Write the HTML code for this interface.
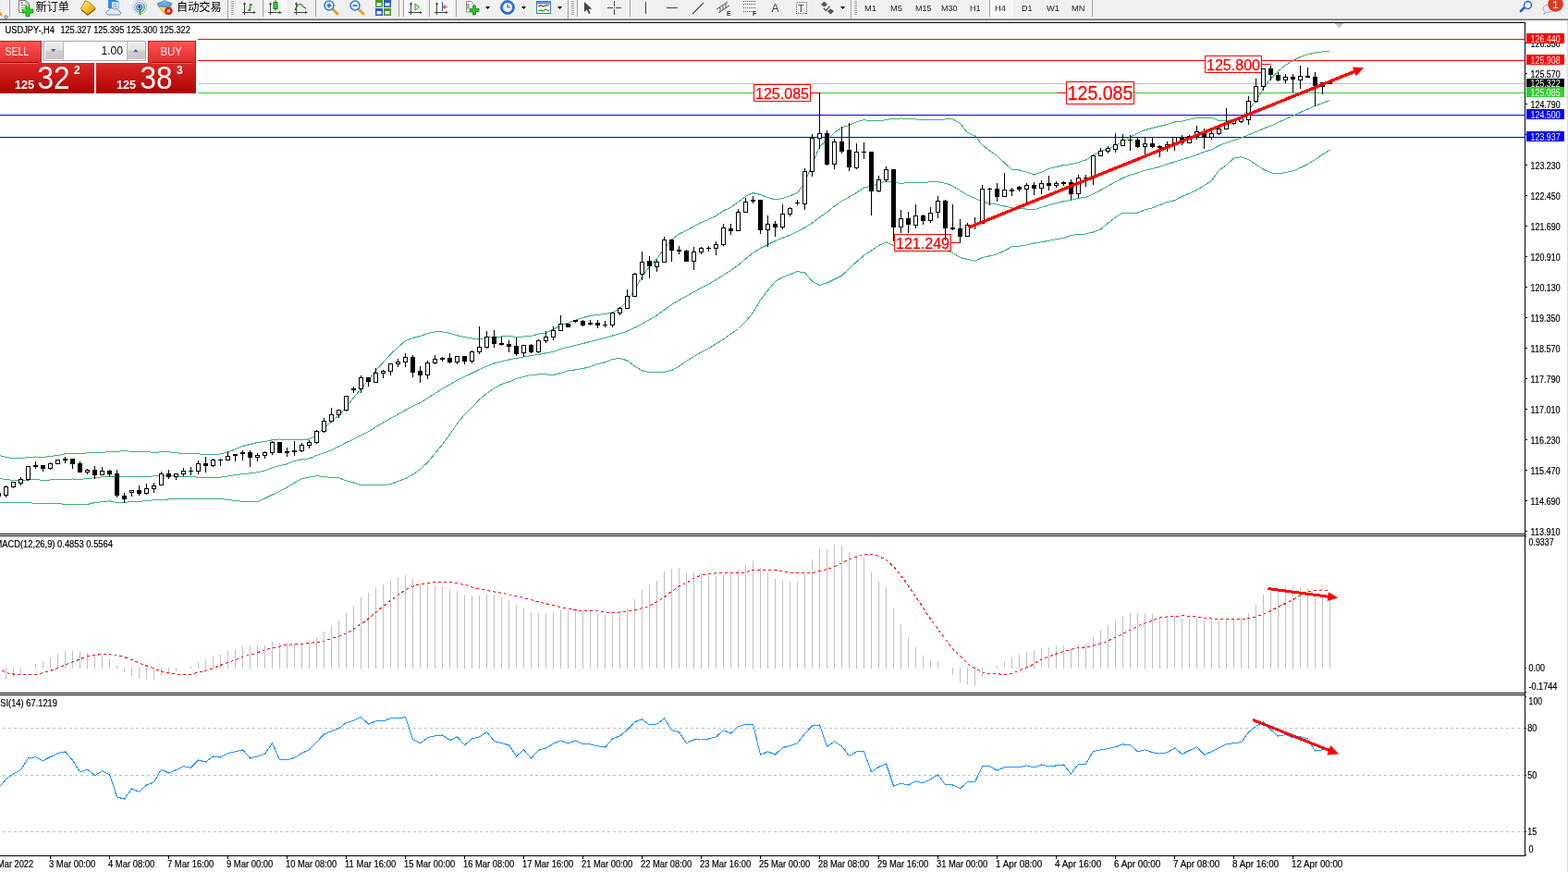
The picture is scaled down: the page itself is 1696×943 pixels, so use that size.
<!DOCTYPE html>
<html lang="zh-CN"><head><meta charset="utf-8"><title>USDJPY-,H4</title>
<style>
html,body{margin:0;padding:0;background:#fff;}
body{width:1696px;height:943px;position:relative;overflow:hidden;font-family:"Liberation Sans","Noto Sans CJK SC",sans-serif;}
#chart{position:absolute;left:0;top:0;}
#chart text{font-family:"Liberation Sans","Noto Sans CJK SC",sans-serif;}
#chart text.sm{stroke:#000;stroke-width:0.2px;}
#tb{position:absolute;left:0;top:0;width:1696px;height:20px;background:#f0f0f0;}
#tbl{position:absolute;left:0;top:19px;width:1696px;height:3px;background:linear-gradient(#f6f6f6 0 33.3%,#a4a4a4 33.3% 66.6%,#6a6a6a 66.6% 100%);}
#rb{position:absolute;left:1695px;top:22px;width:1px;height:921px;background:#dcdcdc;}
.tbt{position:absolute;top:0;height:20px;line-height:16px;font-size:12px;color:#000;white-space:nowrap;}
.tf{position:absolute;top:1px;height:16px;line-height:16px;font-size:10px;color:#222;white-space:nowrap;}
.sep{position:absolute;top:0;width:1px;height:18px;background:#a0a0a0;}
.grip{position:absolute;top:1px;width:3px;height:16px;background:repeating-linear-gradient(#a8a8a8 0 1px,#f0f0f0 1px 2px);}
/* trade panel */
.rbtn{position:absolute;background:linear-gradient(#ff5a5a,#d62020);color:#fff;}
.pbox{position:absolute;top:24px;height:33px;background:linear-gradient(#de2a2a,#b40000);color:#fff;}
</style></head><body>
<svg id="chart" width="1696" height="943" viewBox="0 0 1696 943">
<g shape-rendering="crispEdges">
<rect x="0" y="42" width="1649" height="1" fill="#ff0000"/>
<rect x="0" y="65" width="1649" height="1" fill="#ff0000"/>
<rect x="0" y="90" width="1649" height="1" fill="#c0c0c0"/>
<rect x="0" y="100" width="1649" height="1" fill="#32cd32"/>
<rect x="0" y="124" width="1649" height="1" fill="#0000ff"/>
<rect x="0" y="148" width="1649" height="1" fill="#0000ff"/>
</g>
<polyline points="-1.5,492.2 6.5,494.5 14.5,495.8 22.5,495.8 30.5,494.5 38.5,494.0 46.5,494.5 54.5,493.5 62.5,492.5 70.5,490.8 78.5,490.8 86.5,490.5 94.5,489.9 102.5,489.5 110.5,489.5 118.5,488.5 126.5,488.5 134.5,487.5 142.5,488.5 150.5,488.5 158.5,488.5 166.5,489.5 174.5,488.8 182.5,488.8 190.5,489.5 198.5,490.8 206.5,490.8 214.5,490.8 222.5,491.8 230.5,491.8 238.5,490.8 246.5,489.0 254.5,485.8 262.5,482.5 270.5,480.5 278.5,478.5 286.5,477.5 294.5,475.8 302.5,474.9 310.5,475.8 318.5,475.8 326.5,475.8 334.5,474.9 342.5,470.5 350.5,463.0 358.5,456.1 366.5,449.2 374.5,440.5 382.5,430.0 390.5,420.5 398.5,411.0 406.5,400.5 414.5,391.8 422.5,383.0 430.5,375.5 438.5,368.5 446.5,365.5 454.5,363.5 462.5,360.5 470.5,358.9 478.5,358.9 486.5,360.2 494.5,362.8 502.5,364.5 510.5,365.9 518.5,367.0 526.5,365.2 534.5,364.2 542.5,364.0 550.5,363.5 558.5,364.5 566.5,364.0 574.5,363.5 582.5,361.1 590.5,359.9 598.5,356.1 606.5,351.8 614.5,349.2 622.5,346.1 630.5,343.5 638.5,341.5 646.5,340.5 654.5,339.5 662.5,338.0 670.5,333.5 678.5,325.5 686.5,313.5 694.5,299.0 702.5,288.5 710.5,279.9 718.5,268.5 726.5,259.0 734.5,253.0 742.5,249.2 750.5,244.9 758.5,240.5 766.5,237.4 774.5,233.5 782.5,228.0 790.5,224.2 798.5,218.5 806.5,212.4 814.5,208.5 822.5,210.5 830.5,213.5 838.5,215.9 846.5,214.5 854.5,211.8 862.5,208.5 870.5,197.5 878.5,178.0 886.5,158.5 894.5,151.5 902.5,143.5 910.5,137.8 918.5,135.5 926.5,131.8 934.5,129.5 942.5,130.9 950.5,130.9 958.5,129.5 966.5,128.5 974.5,128.0 982.5,128.9 990.5,128.9 998.5,129.9 1006.5,129.9 1014.5,129.9 1022.5,128.9 1030.5,128.9 1038.5,133.5 1046.5,143.5 1054.5,147.0 1062.5,156.8 1070.5,163.0 1078.5,168.5 1086.5,176.1 1094.5,183.5 1102.5,184.0 1110.5,186.1 1118.5,189.0 1126.5,186.1 1134.5,182.4 1142.5,180.5 1150.5,178.5 1158.5,177.8 1166.5,175.5 1174.5,173.0 1182.5,168.0 1190.5,163.5 1198.5,161.1 1206.5,157.4 1214.5,153.0 1222.5,148.0 1230.5,144.2 1238.5,140.5 1246.5,138.5 1254.5,136.5 1262.5,134.5 1270.5,132.0 1278.5,131.1 1286.5,129.2 1294.5,127.4 1302.5,127.4 1310.5,127.4 1318.5,130.5 1326.5,130.8 1334.5,129.2 1342.5,127.0 1350.5,118.5 1358.5,109.2 1366.5,95.5 1374.5,84.9 1382.5,76.8 1390.5,70.5 1398.5,65.5 1406.5,61.5 1414.5,58.9 1422.5,57.1 1430.5,55.9 1438.5,55.8" fill="none" stroke="#3cb371" stroke-width="1" shape-rendering="crispEdges"/>
<polyline points="-1.5,517.5 6.5,518.5 14.5,519.5 22.5,519.5 30.5,519.0 38.5,518.5 46.5,519.5 54.5,519.0 62.5,518.5 70.5,518.5 78.5,518.0 86.5,518.5 94.5,517.5 102.5,516.8 110.5,515.8 118.5,515.5 126.5,515.5 134.5,515.5 142.5,515.5 150.5,515.5 158.5,515.5 166.5,514.9 174.5,514.9 182.5,514.9 190.5,514.9 198.5,515.8 206.5,515.8 214.5,516.1 222.5,516.1 230.5,516.1 238.5,516.1 246.5,514.9 254.5,513.5 262.5,512.8 270.5,511.8 278.5,510.8 286.5,508.9 294.5,505.8 302.5,503.5 310.5,501.8 318.5,498.5 326.5,496.8 334.5,495.8 342.5,492.5 350.5,489.9 358.5,486.8 366.5,483.0 374.5,478.5 382.5,474.9 390.5,470.8 398.5,466.8 406.5,461.8 414.5,457.0 422.5,452.5 430.5,448.0 438.5,443.5 446.5,439.2 454.5,435.5 462.5,430.5 470.5,425.5 478.5,420.5 486.5,415.8 494.5,411.1 502.5,407.4 510.5,403.5 518.5,399.5 526.5,396.1 534.5,393.0 542.5,390.9 550.5,389.0 558.5,387.4 566.5,385.9 574.5,384.5 582.5,383.4 590.5,381.8 598.5,380.5 606.5,377.4 614.5,375.5 622.5,373.4 630.5,371.5 638.5,369.5 646.5,367.4 654.5,365.5 662.5,363.0 670.5,360.8 678.5,358.0 686.5,354.5 694.5,350.2 702.5,345.5 710.5,341.1 718.5,335.1 726.5,329.5 734.5,324.5 742.5,320.2 750.5,315.8 758.5,311.3 766.5,307.1 774.5,302.5 782.5,297.5 790.5,292.5 798.5,286.8 806.5,279.9 814.5,273.5 822.5,268.5 830.5,264.5 838.5,260.5 846.5,257.4 854.5,254.2 862.5,250.2 870.5,246.0 878.5,241.0 886.5,235.0 894.5,229.5 902.5,223.0 910.5,217.5 918.5,213.0 926.5,208.5 934.5,203.0 942.5,201.3 950.5,198.3 958.5,196.1 966.5,196.9 974.5,198.4 982.5,197.5 990.5,197.5 998.5,197.5 1006.5,196.8 1014.5,196.8 1022.5,198.2 1030.5,201.1 1038.5,206.1 1046.5,211.1 1054.5,214.2 1062.5,218.0 1070.5,219.9 1078.5,221.1 1086.5,223.0 1094.5,224.9 1102.5,225.5 1110.5,226.1 1118.5,226.8 1126.5,224.2 1134.5,221.8 1142.5,219.5 1150.5,217.8 1158.5,216.5 1166.5,214.2 1174.5,213.5 1182.5,209.9 1190.5,205.5 1198.5,201.1 1206.5,196.8 1214.5,192.4 1222.5,189.2 1230.5,187.0 1238.5,184.2 1246.5,182.4 1254.5,180.2 1262.5,177.4 1270.5,175.2 1278.5,172.4 1286.5,170.2 1294.5,167.4 1302.5,164.2 1310.5,161.8 1318.5,157.4 1326.5,154.5 1334.5,151.8 1342.5,149.0 1350.5,145.9 1358.5,142.5 1366.5,139.2 1374.5,136.1 1382.5,132.4 1390.5,128.8 1398.5,125.2 1406.5,121.5 1414.5,118.0 1422.5,114.5 1430.5,111.5 1438.5,108.5" fill="none" stroke="#3cb371" stroke-width="1" shape-rendering="crispEdges"/>
<polyline points="-1.5,543.0 6.5,543.5 14.5,543.5 22.5,543.5 30.5,543.5 38.5,544.5 46.5,544.5 54.5,544.5 62.5,544.5 70.5,545.5 78.5,545.5 86.5,545.5 94.5,545.5 102.5,543.5 110.5,542.8 118.5,541.8 126.5,543.5 134.5,543.5 142.5,542.5 150.5,542.5 158.5,541.5 166.5,540.8 174.5,540.8 182.5,539.9 190.5,539.5 198.5,539.5 206.5,539.5 214.5,539.5 222.5,539.5 230.5,539.5 238.5,539.5 246.5,540.5 254.5,541.5 262.5,542.5 270.5,542.5 278.5,542.5 286.5,539.0 294.5,535.0 302.5,531.5 310.5,527.0 318.5,522.0 326.5,517.8 334.5,516.1 342.5,514.7 350.5,515.5 358.5,516.8 366.5,516.8 374.5,519.9 382.5,522.0 390.5,524.8 398.5,524.8 406.5,524.8 414.5,524.8 422.5,523.5 430.5,520.5 438.5,517.5 446.5,513.0 454.5,507.5 462.5,500.0 470.5,490.5 478.5,480.5 486.5,470.0 494.5,458.0 502.5,448.5 510.5,440.5 518.5,432.0 526.5,425.5 534.5,419.9 542.5,415.5 550.5,413.0 558.5,409.5 566.5,407.4 574.5,405.5 582.5,404.9 590.5,404.9 598.5,405.5 606.5,403.5 614.5,400.8 622.5,399.9 630.5,398.4 638.5,396.8 646.5,393.5 654.5,391.8 662.5,388.5 670.5,387.5 678.5,389.9 686.5,396.1 694.5,400.8 702.5,402.5 710.5,402.5 718.5,402.4 726.5,400.5 734.5,396.1 742.5,390.5 750.5,385.5 758.5,380.8 766.5,376.8 774.5,371.8 782.5,367.0 790.5,361.1 798.5,355.5 806.5,347.5 814.5,338.0 822.5,324.5 830.5,314.0 838.5,304.2 846.5,299.9 854.5,296.8 862.5,293.5 870.5,294.9 878.5,304.2 886.5,308.5 894.5,306.0 902.5,302.0 910.5,298.0 918.5,290.5 926.5,283.0 934.5,276.2 942.5,271.0 950.5,265.5 958.5,261.7 966.5,265.5 974.5,267.5 982.5,268.5 990.5,269.5 998.5,270.5 1006.5,270.5 1014.5,270.5 1022.5,270.8 1030.5,273.5 1038.5,278.5 1046.5,280.5 1054.5,282.4 1062.5,278.5 1070.5,276.8 1078.5,274.9 1086.5,271.1 1094.5,266.8 1102.5,266.1 1110.5,264.9 1118.5,263.0 1126.5,261.8 1134.5,260.2 1142.5,258.8 1150.5,257.5 1158.5,254.5 1166.5,253.5 1174.5,253.0 1182.5,251.0 1190.5,248.0 1198.5,241.0 1206.5,235.0 1214.5,230.0 1222.5,230.0 1230.5,230.0 1238.5,226.8 1246.5,224.9 1254.5,221.8 1262.5,218.5 1270.5,216.8 1278.5,212.4 1286.5,209.2 1294.5,205.5 1302.5,200.5 1310.5,195.5 1318.5,184.2 1326.5,178.5 1334.5,171.1 1342.5,169.7 1350.5,172.5 1358.5,178.0 1366.5,183.0 1374.5,186.8 1382.5,188.0 1390.5,186.5 1398.5,185.0 1406.5,181.5 1414.5,177.5 1422.5,172.5 1430.5,167.0 1438.5,162.2" fill="none" stroke="#3cb371" stroke-width="1" shape-rendering="crispEdges"/>
<g shape-rendering="crispEdges">
<rect x="877" y="100" width="10" height="1" fill="#ff0000"/>
<rect x="886" y="100" width="1" height="45" fill="#000"/>
<rect x="1143" y="100" width="11" height="1" fill="#ff0000"/>
<rect x="1365" y="69" width="10" height="1" fill="#ff0000"/>
<rect x="1029" y="262" width="10" height="1" fill="#ff0000"/>
</g>
<rect x="815.5" y="91.5" width="61" height="18" fill="#fff" stroke="#ff0000" stroke-width="1" shape-rendering="crispEdges"/><text x="846.0" y="107" font-size="16.8" fill="#ff0000" text-anchor="middle" textLength="58" lengthAdjust="spacingAndGlyphs" stroke="#ff0000" stroke-width="0.25">125.085</text>
<rect x="1153.5" y="88.5" width="73" height="24" fill="#fff" stroke="#ff0000" stroke-width="1" shape-rendering="crispEdges"/><text x="1190.0" y="108.2" font-size="21.2" fill="#ff0000" text-anchor="middle" textLength="70.5" lengthAdjust="spacingAndGlyphs" stroke="#ff0000" stroke-width="0.25">125.085</text>
<rect x="1303.5" y="60.5" width="61" height="18" fill="#fff" stroke="#ff0000" stroke-width="1" shape-rendering="crispEdges"/><text x="1334.0" y="76" font-size="16.8" fill="#ff0000" text-anchor="middle" textLength="58" lengthAdjust="spacingAndGlyphs" stroke="#ff0000" stroke-width="0.25">125.800</text>
<rect x="967.5" y="253.5" width="61" height="18" fill="#fff" stroke="#ff0000" stroke-width="1" shape-rendering="crispEdges"/><text x="998.0" y="269" font-size="16.8" fill="#ff0000" text-anchor="middle" textLength="58" lengthAdjust="spacingAndGlyphs" stroke="#ff0000" stroke-width="0.25">121.249</text>
<g shape-rendering="crispEdges">
<rect x="0" y="533" width="1" height="4" fill="#000"/>
<rect x="6" y="525" width="1" height="13" fill="#000"/>
<rect x="4" y="526" width="5" height="10" fill="#000"/>
<rect x="5" y="527" width="3" height="8" fill="#fff"/>
<rect x="14" y="521" width="1" height="7" fill="#000"/>
<rect x="12" y="521" width="5" height="6" fill="#000"/>
<rect x="13" y="522" width="3" height="4" fill="#fff"/>
<rect x="22" y="516" width="1" height="9" fill="#000"/>
<rect x="20" y="518" width="5" height="5" fill="#000"/>
<rect x="21" y="519" width="3" height="3" fill="#fff"/>
<rect x="30" y="504" width="1" height="16" fill="#000"/>
<rect x="28" y="504" width="5" height="15" fill="#000"/>
<rect x="29" y="505" width="3" height="13" fill="#fff"/>
<rect x="38" y="499" width="1" height="8" fill="#000"/>
<rect x="36" y="503" width="5" height="2" fill="#000"/>
<rect x="46" y="503" width="1" height="7" fill="#000"/>
<rect x="44" y="503" width="5" height="4" fill="#000"/>
<rect x="54" y="500" width="1" height="8" fill="#000"/>
<rect x="52" y="501" width="5" height="6" fill="#000"/>
<rect x="53" y="502" width="3" height="4" fill="#fff"/>
<rect x="62" y="497" width="1" height="5" fill="#000"/>
<rect x="60" y="497" width="5" height="5" fill="#000"/>
<rect x="61" y="498" width="3" height="3" fill="#fff"/>
<rect x="70" y="494" width="1" height="7" fill="#000"/>
<rect x="68" y="496" width="5" height="2" fill="#000"/>
<rect x="78" y="496" width="1" height="11" fill="#000"/>
<rect x="76" y="496" width="5" height="6" fill="#000"/>
<rect x="86" y="499" width="1" height="12" fill="#000"/>
<rect x="84" y="501" width="5" height="10" fill="#000"/>
<rect x="94" y="507" width="1" height="6" fill="#000"/>
<rect x="92" y="508" width="5" height="3" fill="#000"/>
<rect x="93" y="509" width="3" height="1" fill="#fff"/>
<rect x="102" y="504" width="1" height="14" fill="#000"/>
<rect x="100" y="508" width="5" height="6" fill="#000"/>
<rect x="110" y="505" width="1" height="9" fill="#000"/>
<rect x="108" y="509" width="5" height="5" fill="#000"/>
<rect x="109" y="510" width="3" height="3" fill="#fff"/>
<rect x="118" y="508" width="1" height="8" fill="#000"/>
<rect x="116" y="509" width="5" height="4" fill="#000"/>
<rect x="126" y="508" width="1" height="30" fill="#000"/>
<rect x="124" y="512" width="5" height="24" fill="#000"/>
<rect x="134" y="533" width="1" height="11" fill="#000"/>
<rect x="132" y="536" width="5" height="4" fill="#000"/>
<rect x="142" y="530" width="1" height="7" fill="#000"/>
<rect x="140" y="530" width="5" height="3" fill="#000"/>
<rect x="141" y="531" width="3" height="1" fill="#fff"/>
<rect x="150" y="525" width="1" height="11" fill="#000"/>
<rect x="148" y="530" width="5" height="4" fill="#000"/>
<rect x="158" y="523" width="1" height="12" fill="#000"/>
<rect x="156" y="528" width="5" height="6" fill="#000"/>
<rect x="157" y="529" width="3" height="4" fill="#fff"/>
<rect x="166" y="522" width="1" height="11" fill="#000"/>
<rect x="164" y="525" width="5" height="4" fill="#000"/>
<rect x="165" y="526" width="3" height="2" fill="#fff"/>
<rect x="174" y="510" width="1" height="15" fill="#000"/>
<rect x="172" y="512" width="5" height="13" fill="#000"/>
<rect x="173" y="513" width="3" height="11" fill="#fff"/>
<rect x="182" y="508" width="1" height="10" fill="#000"/>
<rect x="180" y="512" width="5" height="4" fill="#000"/>
<rect x="190" y="512" width="1" height="7" fill="#000"/>
<rect x="188" y="512" width="5" height="4" fill="#000"/>
<rect x="189" y="513" width="3" height="2" fill="#fff"/>
<rect x="198" y="506" width="1" height="9" fill="#000"/>
<rect x="196" y="509" width="5" height="4" fill="#000"/>
<rect x="197" y="510" width="3" height="2" fill="#fff"/>
<rect x="206" y="505" width="1" height="9" fill="#000"/>
<rect x="204" y="509" width="5" height="1" fill="#000"/>
<rect x="214" y="498" width="1" height="15" fill="#000"/>
<rect x="212" y="501" width="5" height="9" fill="#000"/>
<rect x="213" y="502" width="3" height="7" fill="#fff"/>
<rect x="222" y="494" width="1" height="17" fill="#000"/>
<rect x="220" y="501" width="5" height="3" fill="#000"/>
<rect x="230" y="496" width="1" height="9" fill="#000"/>
<rect x="228" y="497" width="5" height="7" fill="#000"/>
<rect x="229" y="498" width="3" height="5" fill="#fff"/>
<rect x="238" y="496" width="1" height="8" fill="#000"/>
<rect x="236" y="497" width="5" height="1" fill="#000"/>
<rect x="246" y="488" width="1" height="10" fill="#000"/>
<rect x="244" y="493" width="5" height="5" fill="#000"/>
<rect x="245" y="494" width="3" height="3" fill="#fff"/>
<rect x="254" y="491" width="1" height="8" fill="#000"/>
<rect x="252" y="491" width="5" height="2" fill="#000"/>
<rect x="262" y="487" width="1" height="11" fill="#000"/>
<rect x="260" y="489" width="5" height="2" fill="#000"/>
<rect x="270" y="487" width="1" height="18" fill="#000"/>
<rect x="268" y="489" width="5" height="6" fill="#000"/>
<rect x="278" y="490" width="1" height="9" fill="#000"/>
<rect x="276" y="492" width="5" height="3" fill="#000"/>
<rect x="277" y="493" width="3" height="1" fill="#fff"/>
<rect x="286" y="488" width="1" height="8" fill="#000"/>
<rect x="284" y="489" width="5" height="4" fill="#000"/>
<rect x="285" y="490" width="3" height="2" fill="#fff"/>
<rect x="294" y="477" width="1" height="15" fill="#000"/>
<rect x="292" y="478" width="5" height="12" fill="#000"/>
<rect x="293" y="479" width="3" height="10" fill="#fff"/>
<rect x="302" y="478" width="1" height="12" fill="#000"/>
<rect x="300" y="478" width="5" height="12" fill="#000"/>
<rect x="310" y="484" width="1" height="10" fill="#000"/>
<rect x="308" y="488" width="5" height="2" fill="#000"/>
<rect x="318" y="477" width="1" height="16" fill="#000"/>
<rect x="316" y="487" width="5" height="2" fill="#000"/>
<rect x="326" y="479" width="1" height="10" fill="#000"/>
<rect x="324" y="481" width="5" height="7" fill="#000"/>
<rect x="325" y="482" width="3" height="5" fill="#fff"/>
<rect x="334" y="476" width="1" height="9" fill="#000"/>
<rect x="332" y="478" width="5" height="4" fill="#000"/>
<rect x="333" y="479" width="3" height="2" fill="#fff"/>
<rect x="342" y="465" width="1" height="15" fill="#000"/>
<rect x="340" y="466" width="5" height="13" fill="#000"/>
<rect x="341" y="467" width="3" height="11" fill="#fff"/>
<rect x="350" y="452" width="1" height="16" fill="#000"/>
<rect x="348" y="455" width="5" height="12" fill="#000"/>
<rect x="349" y="456" width="3" height="10" fill="#fff"/>
<rect x="358" y="441" width="1" height="16" fill="#000"/>
<rect x="356" y="448" width="5" height="8" fill="#000"/>
<rect x="357" y="449" width="3" height="6" fill="#fff"/>
<rect x="366" y="443" width="1" height="9" fill="#000"/>
<rect x="364" y="443" width="5" height="6" fill="#000"/>
<rect x="365" y="444" width="3" height="4" fill="#fff"/>
<rect x="374" y="428" width="1" height="17" fill="#000"/>
<rect x="372" y="428" width="5" height="16" fill="#000"/>
<rect x="373" y="429" width="3" height="14" fill="#fff"/>
<rect x="382" y="418" width="1" height="7" fill="#000"/>
<rect x="380" y="420" width="5" height="2" fill="#000"/>
<rect x="390" y="406" width="1" height="19" fill="#000"/>
<rect x="388" y="408" width="5" height="13" fill="#000"/>
<rect x="389" y="409" width="3" height="11" fill="#fff"/>
<rect x="398" y="408" width="1" height="10" fill="#000"/>
<rect x="396" y="408" width="5" height="5" fill="#000"/>
<rect x="406" y="398" width="1" height="16" fill="#000"/>
<rect x="404" y="403" width="5" height="11" fill="#000"/>
<rect x="405" y="404" width="3" height="9" fill="#fff"/>
<rect x="414" y="400" width="1" height="9" fill="#000"/>
<rect x="412" y="401" width="5" height="3" fill="#000"/>
<rect x="413" y="402" width="3" height="1" fill="#fff"/>
<rect x="422" y="393" width="1" height="13" fill="#000"/>
<rect x="420" y="393" width="5" height="9" fill="#000"/>
<rect x="421" y="394" width="3" height="7" fill="#fff"/>
<rect x="430" y="388" width="1" height="9" fill="#000"/>
<rect x="428" y="391" width="5" height="3" fill="#000"/>
<rect x="429" y="392" width="3" height="1" fill="#fff"/>
<rect x="438" y="382" width="1" height="15" fill="#000"/>
<rect x="436" y="386" width="5" height="6" fill="#000"/>
<rect x="437" y="387" width="3" height="4" fill="#fff"/>
<rect x="446" y="384" width="1" height="24" fill="#000"/>
<rect x="444" y="386" width="5" height="17" fill="#000"/>
<rect x="454" y="396" width="1" height="18" fill="#000"/>
<rect x="452" y="401" width="5" height="5" fill="#000"/>
<rect x="462" y="390" width="1" height="20" fill="#000"/>
<rect x="460" y="392" width="5" height="14" fill="#000"/>
<rect x="461" y="393" width="3" height="12" fill="#fff"/>
<rect x="470" y="384" width="1" height="10" fill="#000"/>
<rect x="468" y="388" width="5" height="5" fill="#000"/>
<rect x="469" y="389" width="3" height="3" fill="#fff"/>
<rect x="478" y="386" width="1" height="5" fill="#000"/>
<rect x="476" y="387" width="5" height="2" fill="#000"/>
<rect x="486" y="382" width="1" height="11" fill="#000"/>
<rect x="484" y="387" width="5" height="5" fill="#000"/>
<rect x="494" y="385" width="1" height="9" fill="#000"/>
<rect x="492" y="385" width="5" height="7" fill="#000"/>
<rect x="493" y="386" width="3" height="5" fill="#fff"/>
<rect x="502" y="385" width="1" height="9" fill="#000"/>
<rect x="500" y="385" width="5" height="6" fill="#000"/>
<rect x="510" y="379" width="1" height="14" fill="#000"/>
<rect x="508" y="380" width="5" height="11" fill="#000"/>
<rect x="509" y="381" width="3" height="9" fill="#fff"/>
<rect x="518" y="353" width="1" height="30" fill="#000"/>
<rect x="516" y="375" width="5" height="6" fill="#000"/>
<rect x="517" y="376" width="3" height="4" fill="#fff"/>
<rect x="526" y="358" width="1" height="19" fill="#000"/>
<rect x="524" y="364" width="5" height="12" fill="#000"/>
<rect x="525" y="365" width="3" height="10" fill="#fff"/>
<rect x="534" y="357" width="1" height="19" fill="#000"/>
<rect x="532" y="364" width="5" height="8" fill="#000"/>
<rect x="542" y="364" width="1" height="10" fill="#000"/>
<rect x="540" y="371" width="5" height="2" fill="#000"/>
<rect x="550" y="368" width="1" height="13" fill="#000"/>
<rect x="548" y="372" width="5" height="3" fill="#000"/>
<rect x="558" y="365" width="1" height="20" fill="#000"/>
<rect x="556" y="374" width="5" height="9" fill="#000"/>
<rect x="566" y="373" width="1" height="13" fill="#000"/>
<rect x="564" y="373" width="5" height="9" fill="#000"/>
<rect x="565" y="374" width="3" height="7" fill="#fff"/>
<rect x="574" y="372" width="1" height="10" fill="#000"/>
<rect x="572" y="373" width="5" height="8" fill="#000"/>
<rect x="582" y="367" width="1" height="15" fill="#000"/>
<rect x="580" y="368" width="5" height="13" fill="#000"/>
<rect x="581" y="369" width="3" height="11" fill="#fff"/>
<rect x="590" y="358" width="1" height="13" fill="#000"/>
<rect x="588" y="364" width="5" height="5" fill="#000"/>
<rect x="589" y="365" width="3" height="3" fill="#fff"/>
<rect x="598" y="353" width="1" height="15" fill="#000"/>
<rect x="596" y="357" width="5" height="8" fill="#000"/>
<rect x="597" y="358" width="3" height="6" fill="#fff"/>
<rect x="606" y="341" width="1" height="17" fill="#000"/>
<rect x="604" y="350" width="5" height="8" fill="#000"/>
<rect x="605" y="351" width="3" height="6" fill="#fff"/>
<rect x="614" y="350" width="1" height="4" fill="#000"/>
<rect x="612" y="350" width="5" height="4" fill="#000"/>
<rect x="622" y="346" width="1" height="3" fill="#000"/>
<rect x="620" y="346" width="5" height="2" fill="#000"/>
<rect x="630" y="346" width="1" height="7" fill="#000"/>
<rect x="628" y="347" width="5" height="5" fill="#000"/>
<rect x="638" y="346" width="1" height="6" fill="#000"/>
<rect x="636" y="349" width="5" height="2" fill="#000"/>
<rect x="646" y="346" width="1" height="9" fill="#000"/>
<rect x="644" y="349" width="5" height="3" fill="#000"/>
<rect x="654" y="347" width="1" height="7" fill="#000"/>
<rect x="652" y="351" width="5" height="1" fill="#000"/>
<rect x="662" y="338" width="1" height="16" fill="#000"/>
<rect x="660" y="338" width="5" height="14" fill="#000"/>
<rect x="661" y="339" width="3" height="12" fill="#fff"/>
<rect x="670" y="332" width="1" height="9" fill="#000"/>
<rect x="668" y="333" width="5" height="6" fill="#000"/>
<rect x="669" y="334" width="3" height="4" fill="#fff"/>
<rect x="678" y="313" width="1" height="21" fill="#000"/>
<rect x="676" y="320" width="5" height="14" fill="#000"/>
<rect x="677" y="321" width="3" height="12" fill="#fff"/>
<rect x="686" y="295" width="1" height="26" fill="#000"/>
<rect x="684" y="296" width="5" height="25" fill="#000"/>
<rect x="685" y="297" width="3" height="23" fill="#fff"/>
<rect x="694" y="272" width="1" height="31" fill="#000"/>
<rect x="692" y="283" width="5" height="14" fill="#000"/>
<rect x="693" y="284" width="3" height="12" fill="#fff"/>
<rect x="702" y="277" width="1" height="24" fill="#000"/>
<rect x="700" y="282" width="5" height="6" fill="#000"/>
<rect x="710" y="281" width="1" height="13" fill="#000"/>
<rect x="708" y="283" width="5" height="6" fill="#000"/>
<rect x="709" y="284" width="3" height="4" fill="#fff"/>
<rect x="718" y="256" width="1" height="28" fill="#000"/>
<rect x="716" y="259" width="5" height="25" fill="#000"/>
<rect x="717" y="260" width="3" height="23" fill="#fff"/>
<rect x="726" y="259" width="1" height="24" fill="#000"/>
<rect x="724" y="259" width="5" height="12" fill="#000"/>
<rect x="734" y="266" width="1" height="9" fill="#000"/>
<rect x="732" y="270" width="5" height="2" fill="#000"/>
<rect x="742" y="270" width="1" height="13" fill="#000"/>
<rect x="740" y="271" width="5" height="12" fill="#000"/>
<rect x="750" y="267" width="1" height="25" fill="#000"/>
<rect x="748" y="272" width="5" height="11" fill="#000"/>
<rect x="749" y="273" width="3" height="9" fill="#fff"/>
<rect x="758" y="267" width="1" height="8" fill="#000"/>
<rect x="756" y="268" width="5" height="5" fill="#000"/>
<rect x="757" y="269" width="3" height="3" fill="#fff"/>
<rect x="766" y="266" width="1" height="6" fill="#000"/>
<rect x="764" y="268" width="5" height="1" fill="#000"/>
<rect x="774" y="261" width="1" height="15" fill="#000"/>
<rect x="772" y="264" width="5" height="5" fill="#000"/>
<rect x="773" y="265" width="3" height="3" fill="#fff"/>
<rect x="782" y="242" width="1" height="24" fill="#000"/>
<rect x="780" y="246" width="5" height="19" fill="#000"/>
<rect x="781" y="247" width="3" height="17" fill="#fff"/>
<rect x="790" y="242" width="1" height="12" fill="#000"/>
<rect x="788" y="247" width="5" height="3" fill="#000"/>
<rect x="798" y="226" width="1" height="24" fill="#000"/>
<rect x="796" y="229" width="5" height="21" fill="#000"/>
<rect x="797" y="230" width="3" height="19" fill="#fff"/>
<rect x="806" y="214" width="1" height="16" fill="#000"/>
<rect x="804" y="218" width="5" height="12" fill="#000"/>
<rect x="805" y="219" width="3" height="10" fill="#fff"/>
<rect x="814" y="212" width="1" height="8" fill="#000"/>
<rect x="812" y="216" width="5" height="2" fill="#000"/>
<rect x="822" y="216" width="1" height="37" fill="#000"/>
<rect x="820" y="216" width="5" height="33" fill="#000"/>
<rect x="830" y="233" width="1" height="34" fill="#000"/>
<rect x="828" y="242" width="5" height="7" fill="#000"/>
<rect x="829" y="243" width="3" height="5" fill="#fff"/>
<rect x="838" y="239" width="1" height="17" fill="#000"/>
<rect x="836" y="242" width="5" height="4" fill="#000"/>
<rect x="846" y="221" width="1" height="27" fill="#000"/>
<rect x="844" y="231" width="5" height="15" fill="#000"/>
<rect x="845" y="232" width="3" height="13" fill="#fff"/>
<rect x="854" y="224" width="1" height="10" fill="#000"/>
<rect x="852" y="225" width="5" height="7" fill="#000"/>
<rect x="853" y="226" width="3" height="5" fill="#fff"/>
<rect x="862" y="216" width="1" height="6" fill="#000"/>
<rect x="860" y="219" width="5" height="1" fill="#000"/>
<rect x="870" y="182" width="1" height="45" fill="#000"/>
<rect x="868" y="185" width="5" height="36" fill="#000"/>
<rect x="869" y="186" width="3" height="34" fill="#fff"/>
<rect x="878" y="145" width="1" height="46" fill="#000"/>
<rect x="876" y="149" width="5" height="37" fill="#000"/>
<rect x="877" y="150" width="3" height="35" fill="#fff"/>
<rect x="886" y="100" width="1" height="61" fill="#000"/>
<rect x="884" y="144" width="5" height="6" fill="#000"/>
<rect x="885" y="145" width="3" height="4" fill="#fff"/>
<rect x="894" y="141" width="1" height="38" fill="#000"/>
<rect x="892" y="144" width="5" height="34" fill="#000"/>
<rect x="902" y="150" width="1" height="33" fill="#000"/>
<rect x="900" y="153" width="5" height="25" fill="#000"/>
<rect x="901" y="154" width="3" height="23" fill="#fff"/>
<rect x="910" y="137" width="1" height="29" fill="#000"/>
<rect x="908" y="153" width="5" height="11" fill="#000"/>
<rect x="918" y="133" width="1" height="52" fill="#000"/>
<rect x="916" y="162" width="5" height="19" fill="#000"/>
<rect x="926" y="155" width="1" height="28" fill="#000"/>
<rect x="924" y="164" width="5" height="18" fill="#000"/>
<rect x="925" y="165" width="3" height="16" fill="#fff"/>
<rect x="934" y="154" width="1" height="18" fill="#000"/>
<rect x="932" y="164" width="5" height="1" fill="#000"/>
<rect x="942" y="164" width="1" height="69" fill="#000"/>
<rect x="940" y="164" width="5" height="43" fill="#000"/>
<rect x="950" y="190" width="1" height="18" fill="#000"/>
<rect x="948" y="194" width="5" height="13" fill="#000"/>
<rect x="949" y="195" width="3" height="11" fill="#fff"/>
<rect x="958" y="180" width="1" height="17" fill="#000"/>
<rect x="956" y="183" width="5" height="12" fill="#000"/>
<rect x="957" y="184" width="3" height="10" fill="#fff"/>
<rect x="966" y="183" width="1" height="78" fill="#000"/>
<rect x="964" y="183" width="5" height="63" fill="#000"/>
<rect x="974" y="227" width="1" height="25" fill="#000"/>
<rect x="972" y="236" width="5" height="10" fill="#000"/>
<rect x="973" y="237" width="3" height="8" fill="#fff"/>
<rect x="982" y="229" width="1" height="23" fill="#000"/>
<rect x="980" y="236" width="5" height="7" fill="#000"/>
<rect x="990" y="221" width="1" height="26" fill="#000"/>
<rect x="988" y="233" width="5" height="11" fill="#000"/>
<rect x="989" y="234" width="3" height="9" fill="#fff"/>
<rect x="998" y="232" width="1" height="11" fill="#000"/>
<rect x="996" y="233" width="5" height="6" fill="#000"/>
<rect x="1006" y="224" width="1" height="17" fill="#000"/>
<rect x="1004" y="230" width="5" height="9" fill="#000"/>
<rect x="1005" y="231" width="3" height="7" fill="#fff"/>
<rect x="1014" y="212" width="1" height="24" fill="#000"/>
<rect x="1012" y="217" width="5" height="13" fill="#000"/>
<rect x="1013" y="218" width="3" height="11" fill="#fff"/>
<rect x="1022" y="216" width="1" height="44" fill="#000"/>
<rect x="1020" y="217" width="5" height="30" fill="#000"/>
<rect x="1030" y="221" width="1" height="28" fill="#000"/>
<rect x="1028" y="246" width="5" height="2" fill="#000"/>
<rect x="1038" y="237" width="1" height="26" fill="#000"/>
<rect x="1036" y="247" width="5" height="9" fill="#000"/>
<rect x="1046" y="241" width="1" height="15" fill="#000"/>
<rect x="1044" y="243" width="5" height="13" fill="#000"/>
<rect x="1045" y="244" width="3" height="11" fill="#fff"/>
<rect x="1054" y="235" width="1" height="13" fill="#000"/>
<rect x="1052" y="243" width="5" height="1" fill="#000"/>
<rect x="1062" y="200" width="1" height="42" fill="#000"/>
<rect x="1060" y="204" width="5" height="38" fill="#000"/>
<rect x="1061" y="205" width="3" height="36" fill="#fff"/>
<rect x="1070" y="203" width="1" height="19" fill="#000"/>
<rect x="1068" y="204" width="5" height="1" fill="#000"/>
<rect x="1078" y="198" width="1" height="20" fill="#000"/>
<rect x="1076" y="204" width="5" height="9" fill="#000"/>
<rect x="1086" y="187" width="1" height="26" fill="#000"/>
<rect x="1084" y="205" width="5" height="8" fill="#000"/>
<rect x="1085" y="206" width="3" height="6" fill="#fff"/>
<rect x="1094" y="203" width="1" height="9" fill="#000"/>
<rect x="1092" y="205" width="5" height="2" fill="#000"/>
<rect x="1102" y="201" width="1" height="6" fill="#000"/>
<rect x="1100" y="202" width="5" height="3" fill="#000"/>
<rect x="1110" y="198" width="1" height="22" fill="#000"/>
<rect x="1108" y="200" width="5" height="5" fill="#000"/>
<rect x="1109" y="201" width="3" height="3" fill="#fff"/>
<rect x="1118" y="197" width="1" height="14" fill="#000"/>
<rect x="1116" y="200" width="5" height="4" fill="#000"/>
<rect x="1126" y="195" width="1" height="15" fill="#000"/>
<rect x="1124" y="198" width="5" height="6" fill="#000"/>
<rect x="1125" y="199" width="3" height="4" fill="#fff"/>
<rect x="1134" y="190" width="1" height="16" fill="#000"/>
<rect x="1132" y="198" width="5" height="3" fill="#000"/>
<rect x="1142" y="196" width="1" height="7" fill="#000"/>
<rect x="1140" y="198" width="5" height="3" fill="#000"/>
<rect x="1141" y="199" width="3" height="1" fill="#fff"/>
<rect x="1150" y="196" width="1" height="5" fill="#000"/>
<rect x="1148" y="197" width="5" height="2" fill="#000"/>
<rect x="1158" y="194" width="1" height="22" fill="#000"/>
<rect x="1156" y="197" width="5" height="13" fill="#000"/>
<rect x="1166" y="189" width="1" height="25" fill="#000"/>
<rect x="1164" y="192" width="5" height="18" fill="#000"/>
<rect x="1165" y="193" width="3" height="16" fill="#fff"/>
<rect x="1174" y="189" width="1" height="13" fill="#000"/>
<rect x="1172" y="192" width="5" height="1" fill="#000"/>
<rect x="1182" y="167" width="1" height="33" fill="#000"/>
<rect x="1180" y="168" width="5" height="25" fill="#000"/>
<rect x="1181" y="169" width="3" height="23" fill="#fff"/>
<rect x="1190" y="160" width="1" height="9" fill="#000"/>
<rect x="1188" y="163" width="5" height="6" fill="#000"/>
<rect x="1189" y="164" width="3" height="4" fill="#fff"/>
<rect x="1198" y="158" width="1" height="8" fill="#000"/>
<rect x="1196" y="160" width="5" height="4" fill="#000"/>
<rect x="1197" y="161" width="3" height="2" fill="#fff"/>
<rect x="1206" y="144" width="1" height="21" fill="#000"/>
<rect x="1204" y="156" width="5" height="6" fill="#000"/>
<rect x="1205" y="157" width="3" height="4" fill="#fff"/>
<rect x="1214" y="145" width="1" height="13" fill="#000"/>
<rect x="1212" y="151" width="5" height="7" fill="#000"/>
<rect x="1213" y="152" width="3" height="5" fill="#fff"/>
<rect x="1222" y="146" width="1" height="17" fill="#000"/>
<rect x="1220" y="151" width="5" height="1" fill="#000"/>
<rect x="1230" y="148" width="1" height="12" fill="#000"/>
<rect x="1228" y="151" width="5" height="8" fill="#000"/>
<rect x="1238" y="148" width="1" height="19" fill="#000"/>
<rect x="1236" y="155" width="5" height="4" fill="#000"/>
<rect x="1237" y="156" width="3" height="2" fill="#fff"/>
<rect x="1246" y="149" width="1" height="11" fill="#000"/>
<rect x="1244" y="155" width="5" height="4" fill="#000"/>
<rect x="1254" y="157" width="1" height="13" fill="#000"/>
<rect x="1252" y="158" width="5" height="2" fill="#000"/>
<rect x="1262" y="153" width="1" height="11" fill="#000"/>
<rect x="1260" y="156" width="5" height="3" fill="#000"/>
<rect x="1261" y="157" width="3" height="1" fill="#fff"/>
<rect x="1270" y="148" width="1" height="15" fill="#000"/>
<rect x="1268" y="148" width="5" height="7" fill="#000"/>
<rect x="1269" y="149" width="3" height="5" fill="#fff"/>
<rect x="1278" y="146" width="1" height="11" fill="#000"/>
<rect x="1276" y="149" width="5" height="6" fill="#000"/>
<rect x="1286" y="146" width="1" height="9" fill="#000"/>
<rect x="1284" y="147" width="5" height="8" fill="#000"/>
<rect x="1285" y="148" width="3" height="6" fill="#fff"/>
<rect x="1294" y="136" width="1" height="15" fill="#000"/>
<rect x="1292" y="142" width="5" height="6" fill="#000"/>
<rect x="1293" y="143" width="3" height="4" fill="#fff"/>
<rect x="1302" y="139" width="1" height="22" fill="#000"/>
<rect x="1300" y="143" width="5" height="6" fill="#000"/>
<rect x="1310" y="141" width="1" height="10" fill="#000"/>
<rect x="1308" y="144" width="5" height="5" fill="#000"/>
<rect x="1309" y="145" width="3" height="3" fill="#fff"/>
<rect x="1318" y="138" width="1" height="8" fill="#000"/>
<rect x="1316" y="139" width="5" height="6" fill="#000"/>
<rect x="1317" y="140" width="3" height="4" fill="#fff"/>
<rect x="1326" y="117" width="1" height="23" fill="#000"/>
<rect x="1324" y="132" width="5" height="8" fill="#000"/>
<rect x="1325" y="133" width="3" height="6" fill="#fff"/>
<rect x="1334" y="128" width="1" height="7" fill="#000"/>
<rect x="1332" y="129" width="5" height="5" fill="#000"/>
<rect x="1333" y="130" width="3" height="3" fill="#fff"/>
<rect x="1342" y="126" width="1" height="7" fill="#000"/>
<rect x="1340" y="126" width="5" height="6" fill="#000"/>
<rect x="1341" y="127" width="3" height="4" fill="#fff"/>
<rect x="1350" y="104" width="1" height="31" fill="#000"/>
<rect x="1348" y="109" width="5" height="21" fill="#000"/>
<rect x="1349" y="110" width="3" height="19" fill="#fff"/>
<rect x="1358" y="85" width="1" height="26" fill="#000"/>
<rect x="1356" y="93" width="5" height="17" fill="#000"/>
<rect x="1357" y="94" width="3" height="15" fill="#fff"/>
<rect x="1366" y="74" width="1" height="24" fill="#000"/>
<rect x="1364" y="74" width="5" height="20" fill="#000"/>
<rect x="1365" y="75" width="3" height="18" fill="#fff"/>
<rect x="1374" y="71" width="1" height="16" fill="#000"/>
<rect x="1372" y="74" width="5" height="7" fill="#000"/>
<rect x="1382" y="78" width="1" height="10" fill="#000"/>
<rect x="1380" y="81" width="5" height="6" fill="#000"/>
<rect x="1390" y="80" width="1" height="10" fill="#000"/>
<rect x="1388" y="83" width="5" height="4" fill="#000"/>
<rect x="1389" y="84" width="3" height="2" fill="#fff"/>
<rect x="1398" y="80" width="1" height="20" fill="#000"/>
<rect x="1396" y="83" width="5" height="3" fill="#000"/>
<rect x="1406" y="71" width="1" height="25" fill="#000"/>
<rect x="1404" y="82" width="5" height="5" fill="#000"/>
<rect x="1405" y="83" width="3" height="3" fill="#fff"/>
<rect x="1414" y="73" width="1" height="11" fill="#000"/>
<rect x="1412" y="82" width="5" height="2" fill="#000"/>
<rect x="1422" y="78" width="1" height="37" fill="#000"/>
<rect x="1420" y="83" width="5" height="10" fill="#000"/>
<rect x="1430" y="89" width="1" height="13" fill="#000"/>
<rect x="1428" y="89" width="5" height="5" fill="#000"/>
<rect x="1429" y="90" width="3" height="3" fill="#fff"/>
<rect x="1438" y="89" width="1" height="2" fill="#000"/>
<rect x="1436" y="89" width="5" height="2" fill="#000"/>
</g>
<line x1="1047.5" y1="246.1" x2="1466.7" y2="76.7" stroke="#ff0000" stroke-width="3.3" stroke-linecap="butt" shape-rendering="crispEdges"/><polygon points="1475.0,73.3 1466.8,82.2 1462.9,72.6" fill="#ff0000"/>
<polygon points="1444,25 1453,25 1448.5,29.8" fill="#c0c0c0" shape-rendering="crispEdges"/>
<g shape-rendering="crispEdges">
<rect x="0" y="24" width="1650" height="1" fill="#000"/>
<rect x="1649" y="24" width="1" height="902" fill="#000"/>
<rect x="0" y="577" width="1650" height="1" fill="#000"/>
<rect x="0" y="578" width="1649" height="1" fill="#fff"/>
<rect x="1650" y="578" width="1" height="1" fill="#000"/>
<rect x="0" y="579" width="1650" height="1" fill="#000"/>
<rect x="0" y="749" width="1650" height="1" fill="#000"/>
<rect x="0" y="750" width="1649" height="1" fill="#fff"/>
<rect x="0" y="751" width="1650" height="1" fill="#000"/>
<rect x="0" y="925" width="1650" height="1" fill="#000"/>
</g>
<g shape-rendering="crispEdges">
<rect x="6" y="722" width="1" height="12" fill="#c0c0c0"/>
<rect x="14" y="722" width="1" height="10" fill="#c0c0c0"/>
<rect x="22" y="722" width="1" height="8" fill="#c0c0c0"/>
<rect x="38" y="718" width="1" height="5" fill="#c0c0c0"/>
<rect x="46" y="715" width="1" height="8" fill="#c0c0c0"/>
<rect x="54" y="711" width="1" height="12" fill="#c0c0c0"/>
<rect x="62" y="707" width="1" height="16" fill="#c0c0c0"/>
<rect x="70" y="704" width="1" height="19" fill="#c0c0c0"/>
<rect x="78" y="703" width="1" height="20" fill="#c0c0c0"/>
<rect x="86" y="705" width="1" height="18" fill="#c0c0c0"/>
<rect x="94" y="706" width="1" height="17" fill="#c0c0c0"/>
<rect x="102" y="708" width="1" height="15" fill="#c0c0c0"/>
<rect x="110" y="710" width="1" height="13" fill="#c0c0c0"/>
<rect x="118" y="712" width="1" height="11" fill="#c0c0c0"/>
<rect x="126" y="720" width="1" height="3" fill="#c0c0c0"/>
<rect x="134" y="722" width="1" height="5" fill="#c0c0c0"/>
<rect x="142" y="722" width="1" height="9" fill="#c0c0c0"/>
<rect x="150" y="722" width="1" height="12" fill="#c0c0c0"/>
<rect x="158" y="722" width="1" height="13" fill="#c0c0c0"/>
<rect x="166" y="722" width="1" height="13" fill="#c0c0c0"/>
<rect x="174" y="722" width="1" height="9" fill="#c0c0c0"/>
<rect x="182" y="722" width="1" height="7" fill="#c0c0c0"/>
<rect x="190" y="722" width="1" height="4" fill="#c0c0c0"/>
<rect x="206" y="721" width="1" height="2" fill="#c0c0c0"/>
<rect x="214" y="716" width="1" height="7" fill="#c0c0c0"/>
<rect x="222" y="714" width="1" height="9" fill="#c0c0c0"/>
<rect x="230" y="710" width="1" height="13" fill="#c0c0c0"/>
<rect x="238" y="708" width="1" height="15" fill="#c0c0c0"/>
<rect x="246" y="704" width="1" height="19" fill="#c0c0c0"/>
<rect x="254" y="702" width="1" height="21" fill="#c0c0c0"/>
<rect x="262" y="699" width="1" height="24" fill="#c0c0c0"/>
<rect x="270" y="699" width="1" height="24" fill="#c0c0c0"/>
<rect x="278" y="698" width="1" height="25" fill="#c0c0c0"/>
<rect x="286" y="698" width="1" height="25" fill="#c0c0c0"/>
<rect x="294" y="694" width="1" height="29" fill="#c0c0c0"/>
<rect x="302" y="695" width="1" height="28" fill="#c0c0c0"/>
<rect x="310" y="695" width="1" height="28" fill="#c0c0c0"/>
<rect x="318" y="696" width="1" height="27" fill="#c0c0c0"/>
<rect x="326" y="696" width="1" height="27" fill="#c0c0c0"/>
<rect x="334" y="693" width="1" height="30" fill="#c0c0c0"/>
<rect x="342" y="689" width="1" height="34" fill="#c0c0c0"/>
<rect x="350" y="683" width="1" height="40" fill="#c0c0c0"/>
<rect x="358" y="677" width="1" height="46" fill="#c0c0c0"/>
<rect x="366" y="671" width="1" height="52" fill="#c0c0c0"/>
<rect x="374" y="663" width="1" height="60" fill="#c0c0c0"/>
<rect x="382" y="655" width="1" height="68" fill="#c0c0c0"/>
<rect x="390" y="646" width="1" height="77" fill="#c0c0c0"/>
<rect x="398" y="641" width="1" height="82" fill="#c0c0c0"/>
<rect x="406" y="636" width="1" height="87" fill="#c0c0c0"/>
<rect x="414" y="632" width="1" height="91" fill="#c0c0c0"/>
<rect x="422" y="627" width="1" height="96" fill="#c0c0c0"/>
<rect x="430" y="624" width="1" height="99" fill="#c0c0c0"/>
<rect x="438" y="622" width="1" height="101" fill="#c0c0c0"/>
<rect x="446" y="626" width="1" height="97" fill="#c0c0c0"/>
<rect x="454" y="632" width="1" height="91" fill="#c0c0c0"/>
<rect x="462" y="632" width="1" height="91" fill="#c0c0c0"/>
<rect x="470" y="633" width="1" height="90" fill="#c0c0c0"/>
<rect x="478" y="634" width="1" height="89" fill="#c0c0c0"/>
<rect x="486" y="637" width="1" height="86" fill="#c0c0c0"/>
<rect x="494" y="639" width="1" height="84" fill="#c0c0c0"/>
<rect x="502" y="643" width="1" height="80" fill="#c0c0c0"/>
<rect x="510" y="644" width="1" height="79" fill="#c0c0c0"/>
<rect x="518" y="644" width="1" height="79" fill="#c0c0c0"/>
<rect x="526" y="642" width="1" height="81" fill="#c0c0c0"/>
<rect x="534" y="643" width="1" height="80" fill="#c0c0c0"/>
<rect x="542" y="646" width="1" height="77" fill="#c0c0c0"/>
<rect x="550" y="649" width="1" height="74" fill="#c0c0c0"/>
<rect x="558" y="654" width="1" height="69" fill="#c0c0c0"/>
<rect x="566" y="657" width="1" height="66" fill="#c0c0c0"/>
<rect x="574" y="662" width="1" height="61" fill="#c0c0c0"/>
<rect x="582" y="663" width="1" height="60" fill="#c0c0c0"/>
<rect x="590" y="663" width="1" height="60" fill="#c0c0c0"/>
<rect x="598" y="662" width="1" height="61" fill="#c0c0c0"/>
<rect x="606" y="660" width="1" height="63" fill="#c0c0c0"/>
<rect x="614" y="660" width="1" height="63" fill="#c0c0c0"/>
<rect x="622" y="659" width="1" height="64" fill="#c0c0c0"/>
<rect x="630" y="660" width="1" height="63" fill="#c0c0c0"/>
<rect x="638" y="660" width="1" height="63" fill="#c0c0c0"/>
<rect x="646" y="663" width="1" height="60" fill="#c0c0c0"/>
<rect x="654" y="665" width="1" height="58" fill="#c0c0c0"/>
<rect x="662" y="664" width="1" height="59" fill="#c0c0c0"/>
<rect x="670" y="662" width="1" height="61" fill="#c0c0c0"/>
<rect x="678" y="658" width="1" height="65" fill="#c0c0c0"/>
<rect x="686" y="648" width="1" height="75" fill="#c0c0c0"/>
<rect x="694" y="638" width="1" height="85" fill="#c0c0c0"/>
<rect x="702" y="632" width="1" height="91" fill="#c0c0c0"/>
<rect x="710" y="628" width="1" height="95" fill="#c0c0c0"/>
<rect x="718" y="618" width="1" height="105" fill="#c0c0c0"/>
<rect x="726" y="615" width="1" height="108" fill="#c0c0c0"/>
<rect x="734" y="614" width="1" height="109" fill="#c0c0c0"/>
<rect x="742" y="618" width="1" height="105" fill="#c0c0c0"/>
<rect x="750" y="619" width="1" height="104" fill="#c0c0c0"/>
<rect x="758" y="620" width="1" height="103" fill="#c0c0c0"/>
<rect x="766" y="622" width="1" height="101" fill="#c0c0c0"/>
<rect x="774" y="623" width="1" height="100" fill="#c0c0c0"/>
<rect x="782" y="621" width="1" height="102" fill="#c0c0c0"/>
<rect x="790" y="620" width="1" height="103" fill="#c0c0c0"/>
<rect x="798" y="616" width="1" height="107" fill="#c0c0c0"/>
<rect x="806" y="610" width="1" height="113" fill="#c0c0c0"/>
<rect x="814" y="606" width="1" height="117" fill="#c0c0c0"/>
<rect x="822" y="614" width="1" height="109" fill="#c0c0c0"/>
<rect x="830" y="619" width="1" height="104" fill="#c0c0c0"/>
<rect x="838" y="626" width="1" height="97" fill="#c0c0c0"/>
<rect x="846" y="628" width="1" height="95" fill="#c0c0c0"/>
<rect x="854" y="629" width="1" height="94" fill="#c0c0c0"/>
<rect x="862" y="629" width="1" height="94" fill="#c0c0c0"/>
<rect x="870" y="621" width="1" height="102" fill="#c0c0c0"/>
<rect x="878" y="605" width="1" height="118" fill="#c0c0c0"/>
<rect x="886" y="593" width="1" height="130" fill="#c0c0c0"/>
<rect x="894" y="594" width="1" height="129" fill="#c0c0c0"/>
<rect x="902" y="589" width="1" height="134" fill="#c0c0c0"/>
<rect x="910" y="590" width="1" height="133" fill="#c0c0c0"/>
<rect x="918" y="597" width="1" height="126" fill="#c0c0c0"/>
<rect x="926" y="600" width="1" height="123" fill="#c0c0c0"/>
<rect x="934" y="603" width="1" height="120" fill="#c0c0c0"/>
<rect x="942" y="619" width="1" height="104" fill="#c0c0c0"/>
<rect x="950" y="629" width="1" height="94" fill="#c0c0c0"/>
<rect x="958" y="635" width="1" height="88" fill="#c0c0c0"/>
<rect x="966" y="658" width="1" height="65" fill="#c0c0c0"/>
<rect x="974" y="675" width="1" height="48" fill="#c0c0c0"/>
<rect x="982" y="690" width="1" height="33" fill="#c0c0c0"/>
<rect x="990" y="700" width="1" height="23" fill="#c0c0c0"/>
<rect x="998" y="709" width="1" height="14" fill="#c0c0c0"/>
<rect x="1006" y="714" width="1" height="9" fill="#c0c0c0"/>
<rect x="1014" y="715" width="1" height="8" fill="#c0c0c0"/>
<rect x="1030" y="722" width="1" height="8" fill="#c0c0c0"/>
<rect x="1038" y="722" width="1" height="16" fill="#c0c0c0"/>
<rect x="1046" y="722" width="1" height="18" fill="#c0c0c0"/>
<rect x="1054" y="722" width="1" height="20" fill="#c0c0c0"/>
<rect x="1062" y="722" width="1" height="10" fill="#c0c0c0"/>
<rect x="1078" y="720" width="1" height="3" fill="#c0c0c0"/>
<rect x="1086" y="715" width="1" height="8" fill="#c0c0c0"/>
<rect x="1094" y="711" width="1" height="12" fill="#c0c0c0"/>
<rect x="1102" y="708" width="1" height="15" fill="#c0c0c0"/>
<rect x="1110" y="705" width="1" height="18" fill="#c0c0c0"/>
<rect x="1118" y="703" width="1" height="20" fill="#c0c0c0"/>
<rect x="1126" y="701" width="1" height="22" fill="#c0c0c0"/>
<rect x="1134" y="700" width="1" height="23" fill="#c0c0c0"/>
<rect x="1142" y="699" width="1" height="24" fill="#c0c0c0"/>
<rect x="1150" y="698" width="1" height="25" fill="#c0c0c0"/>
<rect x="1158" y="701" width="1" height="22" fill="#c0c0c0"/>
<rect x="1166" y="698" width="1" height="25" fill="#c0c0c0"/>
<rect x="1174" y="697" width="1" height="26" fill="#c0c0c0"/>
<rect x="1182" y="689" width="1" height="34" fill="#c0c0c0"/>
<rect x="1190" y="682" width="1" height="41" fill="#c0c0c0"/>
<rect x="1198" y="676" width="1" height="47" fill="#c0c0c0"/>
<rect x="1206" y="671" width="1" height="52" fill="#c0c0c0"/>
<rect x="1214" y="666" width="1" height="57" fill="#c0c0c0"/>
<rect x="1222" y="663" width="1" height="60" fill="#c0c0c0"/>
<rect x="1230" y="663" width="1" height="60" fill="#c0c0c0"/>
<rect x="1238" y="663" width="1" height="60" fill="#c0c0c0"/>
<rect x="1246" y="664" width="1" height="59" fill="#c0c0c0"/>
<rect x="1254" y="666" width="1" height="57" fill="#c0c0c0"/>
<rect x="1262" y="668" width="1" height="55" fill="#c0c0c0"/>
<rect x="1270" y="667" width="1" height="56" fill="#c0c0c0"/>
<rect x="1278" y="669" width="1" height="54" fill="#c0c0c0"/>
<rect x="1286" y="670" width="1" height="53" fill="#c0c0c0"/>
<rect x="1294" y="669" width="1" height="54" fill="#c0c0c0"/>
<rect x="1302" y="671" width="1" height="52" fill="#c0c0c0"/>
<rect x="1310" y="672" width="1" height="51" fill="#c0c0c0"/>
<rect x="1318" y="671" width="1" height="52" fill="#c0c0c0"/>
<rect x="1326" y="670" width="1" height="53" fill="#c0c0c0"/>
<rect x="1334" y="670" width="1" height="53" fill="#c0c0c0"/>
<rect x="1342" y="668" width="1" height="55" fill="#c0c0c0"/>
<rect x="1350" y="663" width="1" height="60" fill="#c0c0c0"/>
<rect x="1358" y="654" width="1" height="69" fill="#c0c0c0"/>
<rect x="1366" y="643" width="1" height="80" fill="#c0c0c0"/>
<rect x="1374" y="637" width="1" height="86" fill="#c0c0c0"/>
<rect x="1382" y="636" width="1" height="87" fill="#c0c0c0"/>
<rect x="1390" y="634" width="1" height="89" fill="#c0c0c0"/>
<rect x="1398" y="634" width="1" height="89" fill="#c0c0c0"/>
<rect x="1406" y="635" width="1" height="88" fill="#c0c0c0"/>
<rect x="1414" y="636" width="1" height="87" fill="#c0c0c0"/>
<rect x="1422" y="641" width="1" height="82" fill="#c0c0c0"/>
<rect x="1430" y="643" width="1" height="80" fill="#c0c0c0"/>
<rect x="1438" y="647" width="1" height="76" fill="#c0c0c0"/>
</g>
<polyline points="2.0,725.3 9.4,728.1 18.9,729.8 37.8,729.8 47.2,727.5 56.6,724.7 66.0,720.9 75.5,717.1 85.0,713.4 94.4,709.6 105.7,708.1 117.0,706.8 128.4,708.7 139.7,712.4 151.0,717.1 162.4,721.5 173.7,725.7 185.0,728.5 196.3,730.0 207.7,728.9 219.0,726.2 230.3,722.8 241.6,718.1 253.0,714.3 264.3,709.6 275.6,706.8 287.0,702.6 298.3,700.2 309.6,697.3 319.0,696.8 331.3,695.8 342.7,694.5 350.2,693.2 357.8,690.7 367.2,687.9 376.6,684.1 386.1,677.5 395.5,671.8 405.0,663.3 414.4,655.8 423.8,648.2 433.3,641.6 440.8,636.5 450.3,632.5 459.7,631.2 469.1,629.0 486.1,629.0 495.6,630.9 505.0,633.1 516.3,636.5 527.7,638.8 539.0,640.7 550.3,642.9 561.6,645.4 573.0,648.2 584.3,651.4 595.6,653.9 607.0,656.7 618.3,659.0 629.6,660.9 640.0,660.9 649.4,660.9 653.2,662.0 670.2,662.0 681.5,660.9 692.9,658.1 700.4,655.8 709.9,651.1 717.4,646.7 725.0,640.7 734.4,634.1 741.9,630.7 749.5,625.6 758.9,621.8 770.3,620.5 779.7,619.0 806.1,619.0 811.8,616.9 840.1,616.9 845.8,618.0 859.0,619.9 877.9,619.9 885.4,617.7 893.0,616.1 904.3,612.0 915.6,606.1 927.0,602.0 934.5,599.2 943.9,599.2 951.5,602.0 959.0,605.8 961.9,608.6 969.4,616.1 978.9,628.4 986.4,639.7 994.0,650.1 1001.5,662.4 1009.1,672.8 1016.6,683.2 1024.2,693.5 1031.7,703.0 1039.3,710.5 1046.8,718.1 1054.4,722.8 1061.9,726.6 1069.5,728.9 1080.8,728.9 1086.5,729.8 1095.9,727.9 1105.4,723.8 1114.8,720.0 1124.2,714.3 1133.7,710.2 1143.1,706.8 1152.6,703.9 1163.9,701.1 1179.0,699.2 1190.3,696.0 1197.9,693.2 1207.3,688.8 1216.7,684.1 1226.2,679.4 1235.6,674.7 1245.1,671.8 1252.6,668.4 1265.8,666.5 1280.0,665.8 1291.3,666.7 1298.9,667.7 1310.2,669.0 1321.5,669.0 1327.2,669.9 1342.3,669.9 1349.9,668.4 1359.3,666.7 1368.7,663.3 1376.3,659.6 1383.8,655.8 1393.3,651.1 1400.8,647.3 1408.4,642.6 1415.9,639.7 1423.5,638.4 1431.0,637.9 1438.4,638.8" fill="none" stroke="#ff0000" stroke-width="1" stroke-dasharray="3 3" shape-rendering="crispEdges"/>
<line x1="1371.5" y1="636.6" x2="1438.3" y2="645.4" stroke="#ff0000" stroke-width="3.0" stroke-linecap="butt" shape-rendering="crispEdges"/><polygon points="1447.2,646.6 1435.6,650.1 1436.9,640.2" fill="#ff0000"/>
<g shape-rendering="crispEdges">
<line x1="3" y1="787.5" x2="1649" y2="787.5" stroke="#c0c0c0" stroke-width="1" stroke-dasharray="3 3"/>
<line x1="3" y1="838.5" x2="1649" y2="838.5" stroke="#c0c0c0" stroke-width="1" stroke-dasharray="3 3"/>
<line x1="3" y1="899.5" x2="1649" y2="899.5" stroke="#c0c0c0" stroke-width="1" stroke-dasharray="3 3"/>
</g>
<polyline points="-1.5,852.1 6.5,842.6 14.5,837.0 22.5,832.6 30.5,820.0 38.5,818.8 46.5,822.6 54.5,818.5 62.5,814.7 70.5,812.8 78.5,822.2 86.5,834.9 94.5,832.1 102.5,838.7 110.5,833.9 118.5,837.7 126.5,861.9 134.5,864.1 142.5,853.0 150.5,856.2 158.5,849.0 166.5,845.8 174.5,832.1 182.5,836.0 190.5,832.6 198.5,828.8 206.5,830.2 214.5,821.9 222.5,824.1 230.5,817.9 238.5,819.0 246.5,814.7 254.5,812.8 262.5,810.9 270.5,820.0 278.5,817.9 286.5,815.1 294.5,803.9 302.5,821.9 310.5,821.9 318.5,819.4 326.5,814.3 334.5,810.9 342.5,802.4 350.5,793.9 358.5,790.7 366.5,787.7 374.5,781.6 382.5,779.4 390.5,775.4 398.5,783.0 406.5,779.8 414.5,779.8 422.5,776.9 430.5,776.9 438.5,775.6 446.5,799.6 454.5,803.9 462.5,797.7 470.5,795.8 478.5,794.9 486.5,800.5 494.5,796.8 502.5,805.8 510.5,799.0 518.5,796.8 526.5,791.7 534.5,801.5 542.5,803.7 550.5,805.8 558.5,817.9 566.5,810.9 574.5,820.0 582.5,811.3 590.5,809.0 598.5,804.3 606.5,800.9 614.5,803.9 622.5,800.9 630.5,804.9 638.5,804.9 646.5,806.8 654.5,808.1 662.5,799.0 670.5,795.8 678.5,789.2 686.5,780.7 694.5,777.9 702.5,783.9 710.5,783.0 718.5,776.9 726.5,789.6 734.5,791.7 742.5,803.9 750.5,800.0 758.5,799.0 766.5,799.0 774.5,796.8 782.5,789.8 790.5,793.0 798.5,785.8 806.5,783.0 814.5,783.0 822.5,816.0 830.5,812.8 838.5,816.0 846.5,808.5 854.5,806.6 862.5,803.9 870.5,793.5 878.5,784.9 886.5,783.9 894.5,807.5 902.5,801.9 910.5,807.1 918.5,817.5 926.5,812.8 934.5,812.8 942.5,834.9 950.5,829.4 958.5,826.0 966.5,850.0 974.5,847.2 982.5,849.0 990.5,844.9 998.5,846.8 1006.5,842.6 1014.5,837.9 1022.5,848.7 1030.5,849.0 1038.5,852.8 1046.5,845.8 1054.5,845.8 1062.5,828.8 1070.5,828.8 1078.5,833.0 1086.5,829.8 1094.5,829.8 1102.5,829.8 1110.5,827.9 1118.5,829.8 1126.5,827.0 1134.5,828.8 1142.5,827.9 1150.5,827.0 1158.5,837.0 1166.5,826.0 1174.5,826.0 1182.5,812.4 1190.5,810.9 1198.5,809.6 1206.5,807.7 1214.5,804.9 1222.5,805.8 1230.5,812.8 1238.5,810.9 1246.5,813.7 1254.5,815.1 1262.5,813.7 1270.5,809.0 1278.5,815.6 1286.5,811.5 1294.5,807.7 1302.5,816.0 1310.5,812.8 1318.5,808.6 1326.5,804.9 1334.5,803.5 1342.5,802.8 1350.5,791.8 1358.5,785.4 1366.5,780.8 1374.5,789.0 1382.5,796.1 1390.5,794.5 1398.5,797.8 1406.5,796.7 1414.5,799.0 1422.5,812.1 1430.5,810.7 1438.5,809.9" fill="none" stroke="#1e90ff" stroke-width="1" shape-rendering="crispEdges"/>
<line x1="1355.0" y1="778.5" x2="1439.2" y2="812.0" stroke="#ff0000" stroke-width="3.0" stroke-linecap="butt" shape-rendering="crispEdges"/><polygon points="1448.0,815.5 1435.3,816.4 1439.3,806.1" fill="#ff0000"/>
<g shape-rendering="crispEdges">
<rect x="1650" y="46" width="2" height="1" fill="#000"/>
<rect x="1650" y="79" width="2" height="1" fill="#000"/>
<rect x="1650" y="112" width="2" height="1" fill="#000"/>
<rect x="1650" y="145" width="2" height="1" fill="#000"/>
<rect x="1650" y="178" width="2" height="1" fill="#000"/>
<rect x="1650" y="211" width="2" height="1" fill="#000"/>
<rect x="1650" y="244" width="2" height="1" fill="#000"/>
<rect x="1650" y="277" width="2" height="1" fill="#000"/>
<rect x="1650" y="310" width="2" height="1" fill="#000"/>
<rect x="1650" y="343" width="2" height="1" fill="#000"/>
<rect x="1650" y="376" width="2" height="1" fill="#000"/>
<rect x="1650" y="409" width="2" height="1" fill="#000"/>
<rect x="1650" y="442" width="2" height="1" fill="#000"/>
<rect x="1650" y="475" width="2" height="1" fill="#000"/>
<rect x="1650" y="508" width="2" height="1" fill="#000"/>
<rect x="1650" y="541" width="2" height="1" fill="#000"/>
<rect x="1650" y="574" width="2" height="1" fill="#000"/>
<rect x="1650" y="580" width="1" height="1" fill="#000"/>
<rect x="1650" y="722" width="1" height="1" fill="#000"/>
<rect x="1650" y="748" width="1" height="1" fill="#000"/>
<rect x="1650" y="753" width="1" height="1" fill="#000"/>
<rect x="1650" y="787" width="1" height="1" fill="#000"/>
<rect x="1650" y="838" width="1" height="1" fill="#000"/>
<rect x="1650" y="899" width="1" height="1" fill="#000"/>
<rect x="1650" y="924" width="1" height="1" fill="#000"/>
</g>
<text x="1655.6" y="50.6" font-size="10.6" fill="#000" class="sm" textLength="32" lengthAdjust="spacingAndGlyphs">126.350</text>
<text x="1655.6" y="83.6" font-size="10.6" fill="#000" class="sm" textLength="32" lengthAdjust="spacingAndGlyphs">125.570</text>
<text x="1655.6" y="116.6" font-size="10.6" fill="#000" class="sm" textLength="32" lengthAdjust="spacingAndGlyphs">124.790</text>
<text x="1655.6" y="182.6" font-size="10.6" fill="#000" class="sm" textLength="32" lengthAdjust="spacingAndGlyphs">123.230</text>
<text x="1655.6" y="215.6" font-size="10.6" fill="#000" class="sm" textLength="32" lengthAdjust="spacingAndGlyphs">122.450</text>
<text x="1655.6" y="248.6" font-size="10.6" fill="#000" class="sm" textLength="32" lengthAdjust="spacingAndGlyphs">121.690</text>
<text x="1655.6" y="281.6" font-size="10.6" fill="#000" class="sm" textLength="32" lengthAdjust="spacingAndGlyphs">120.910</text>
<text x="1655.6" y="314.6" font-size="10.6" fill="#000" class="sm" textLength="32" lengthAdjust="spacingAndGlyphs">120.130</text>
<text x="1655.6" y="347.6" font-size="10.6" fill="#000" class="sm" textLength="32" lengthAdjust="spacingAndGlyphs">119.350</text>
<text x="1655.6" y="380.6" font-size="10.6" fill="#000" class="sm" textLength="32" lengthAdjust="spacingAndGlyphs">118.570</text>
<text x="1655.6" y="413.6" font-size="10.6" fill="#000" class="sm" textLength="32" lengthAdjust="spacingAndGlyphs">117.790</text>
<text x="1655.6" y="446.6" font-size="10.6" fill="#000" class="sm" textLength="32" lengthAdjust="spacingAndGlyphs">117.010</text>
<text x="1655.6" y="479.6" font-size="10.6" fill="#000" class="sm" textLength="32" lengthAdjust="spacingAndGlyphs">116.230</text>
<text x="1655.6" y="512.6" font-size="10.6" fill="#000" class="sm" textLength="32" lengthAdjust="spacingAndGlyphs">115.470</text>
<text x="1655.6" y="545.6" font-size="10.6" fill="#000" class="sm" textLength="32" lengthAdjust="spacingAndGlyphs">114.690</text>
<text x="1655.6" y="578.6" font-size="10.6" fill="#000" class="sm" textLength="32" lengthAdjust="spacingAndGlyphs">113.910</text>
<rect x="1651" y="36" width="41" height="11" fill="#ff0000" shape-rendering="crispEdges"/><text x="1655.6" y="45.6" font-size="10.6" fill="#fff" textLength="32" lengthAdjust="spacingAndGlyphs">126.440</text>
<rect x="1651" y="59" width="41" height="11" fill="#ff0000" shape-rendering="crispEdges"/><text x="1655.6" y="68.6" font-size="10.6" fill="#fff" textLength="32" lengthAdjust="spacingAndGlyphs">125.908</text>
<rect x="1651" y="85" width="41" height="10" fill="#000000" shape-rendering="crispEdges"/><text x="1655.6" y="93.6" font-size="10.6" fill="#fff" textLength="32" lengthAdjust="spacingAndGlyphs">125.322</text>
<rect x="1651" y="94" width="41" height="11" fill="#32cd32" shape-rendering="crispEdges"/><text x="1655.6" y="103.6" font-size="10.6" fill="#fff" textLength="32" lengthAdjust="spacingAndGlyphs">125.085</text>
<rect x="1651" y="118" width="41" height="11" fill="#0000ff" shape-rendering="crispEdges"/><text x="1655.6" y="127.6" font-size="10.6" fill="#fff" textLength="32" lengthAdjust="spacingAndGlyphs">124.500</text>
<rect x="1651" y="142" width="41" height="11" fill="#0000ff" shape-rendering="crispEdges"/><text x="1655.6" y="151.6" font-size="10.6" fill="#fff" textLength="32" lengthAdjust="spacingAndGlyphs">123.937</text>
<text x="1653.6" y="590" font-size="10.6" fill="#000" class="sm" textLength="27" lengthAdjust="spacingAndGlyphs">0.9337</text>
<text x="1653.6" y="725.6" font-size="10.6" fill="#000" class="sm" textLength="17.3" lengthAdjust="spacingAndGlyphs">0.00</text>
<text x="1653.4" y="745.6" font-size="10.6" fill="#000" class="sm" textLength="31" lengthAdjust="spacingAndGlyphs">-0.1744</text>
<text x="1653.6" y="761.8" font-size="10.6" fill="#000" class="sm" textLength="14.5" lengthAdjust="spacingAndGlyphs">100</text>
<text x="1652.2" y="790.6" font-size="10.6" fill="#000" class="sm" textLength="10" lengthAdjust="spacingAndGlyphs">80</text>
<text x="1652.2" y="841.6" font-size="10.6" fill="#000" class="sm" textLength="10" lengthAdjust="spacingAndGlyphs">50</text>
<text x="1652.2" y="902.6" font-size="10.6" fill="#000" class="sm" textLength="10" lengthAdjust="spacingAndGlyphs">15</text>
<text x="1653.4" y="921.8" font-size="10.6" fill="#000" class="sm" textLength="5" lengthAdjust="spacingAndGlyphs">0</text>
<g shape-rendering="crispEdges">
<rect x="54" y="926" width="1" height="3" fill="#000"/>
<rect x="118" y="926" width="1" height="3" fill="#000"/>
<rect x="182" y="926" width="1" height="3" fill="#000"/>
<rect x="246" y="926" width="1" height="3" fill="#000"/>
<rect x="310" y="926" width="1" height="3" fill="#000"/>
<rect x="374" y="926" width="1" height="3" fill="#000"/>
<rect x="438" y="926" width="1" height="3" fill="#000"/>
<rect x="502" y="926" width="1" height="3" fill="#000"/>
<rect x="566" y="926" width="1" height="3" fill="#000"/>
<rect x="630" y="926" width="1" height="3" fill="#000"/>
<rect x="694" y="926" width="1" height="3" fill="#000"/>
<rect x="758" y="926" width="1" height="3" fill="#000"/>
<rect x="822" y="926" width="1" height="3" fill="#000"/>
<rect x="886" y="926" width="1" height="3" fill="#000"/>
<rect x="950" y="926" width="1" height="3" fill="#000"/>
<rect x="1014" y="926" width="1" height="3" fill="#000"/>
<rect x="1078" y="926" width="1" height="3" fill="#000"/>
<rect x="1142" y="926" width="1" height="3" fill="#000"/>
<rect x="1206" y="926" width="1" height="3" fill="#000"/>
<rect x="1270" y="926" width="1" height="3" fill="#000"/>
<rect x="1334" y="926" width="1" height="3" fill="#000"/>
<rect x="1398" y="926" width="1" height="3" fill="#000"/>
</g>
<text x="-10.6" y="938.2" font-size="10.6" fill="#000" class="sm" textLength="46.6" lengthAdjust="spacingAndGlyphs">1 Mar 2022</text>
<text x="53" y="938.2" font-size="10.6" fill="#000" class="sm" textLength="50.3" lengthAdjust="spacingAndGlyphs">3 Mar 00:00</text>
<text x="117" y="938.2" font-size="10.6" fill="#000" class="sm" textLength="50.3" lengthAdjust="spacingAndGlyphs">4 Mar 08:00</text>
<text x="181" y="938.2" font-size="10.6" fill="#000" class="sm" textLength="50.3" lengthAdjust="spacingAndGlyphs">7 Mar 16:00</text>
<text x="245" y="938.2" font-size="10.6" fill="#000" class="sm" textLength="50.3" lengthAdjust="spacingAndGlyphs">9 Mar 00:00</text>
<text x="309" y="938.2" font-size="10.6" fill="#000" class="sm" textLength="55.3" lengthAdjust="spacingAndGlyphs">10 Mar 08:00</text>
<text x="373" y="938.2" font-size="10.6" fill="#000" class="sm" textLength="55.3" lengthAdjust="spacingAndGlyphs">11 Mar 16:00</text>
<text x="437" y="938.2" font-size="10.6" fill="#000" class="sm" textLength="55.3" lengthAdjust="spacingAndGlyphs">15 Mar 00:00</text>
<text x="501" y="938.2" font-size="10.6" fill="#000" class="sm" textLength="55.3" lengthAdjust="spacingAndGlyphs">16 Mar 08:00</text>
<text x="565" y="938.2" font-size="10.6" fill="#000" class="sm" textLength="55.3" lengthAdjust="spacingAndGlyphs">17 Mar 16:00</text>
<text x="629" y="938.2" font-size="10.6" fill="#000" class="sm" textLength="55.3" lengthAdjust="spacingAndGlyphs">21 Mar 00:00</text>
<text x="693" y="938.2" font-size="10.6" fill="#000" class="sm" textLength="55.3" lengthAdjust="spacingAndGlyphs">22 Mar 08:00</text>
<text x="757" y="938.2" font-size="10.6" fill="#000" class="sm" textLength="55.3" lengthAdjust="spacingAndGlyphs">23 Mar 16:00</text>
<text x="821" y="938.2" font-size="10.6" fill="#000" class="sm" textLength="55.3" lengthAdjust="spacingAndGlyphs">25 Mar 00:00</text>
<text x="885" y="938.2" font-size="10.6" fill="#000" class="sm" textLength="55.3" lengthAdjust="spacingAndGlyphs">28 Mar 08:00</text>
<text x="949" y="938.2" font-size="10.6" fill="#000" class="sm" textLength="55.3" lengthAdjust="spacingAndGlyphs">29 Mar 16:00</text>
<text x="1013" y="938.2" font-size="10.6" fill="#000" class="sm" textLength="55.3" lengthAdjust="spacingAndGlyphs">31 Mar 00:00</text>
<text x="1077" y="938.2" font-size="10.6" fill="#000" class="sm" textLength="50.3" lengthAdjust="spacingAndGlyphs">1 Apr 08:00</text>
<text x="1141" y="938.2" font-size="10.6" fill="#000" class="sm" textLength="50.3" lengthAdjust="spacingAndGlyphs">4 Apr 16:00</text>
<text x="1205" y="938.2" font-size="10.6" fill="#000" class="sm" textLength="50.3" lengthAdjust="spacingAndGlyphs">6 Apr 00:00</text>
<text x="1269" y="938.2" font-size="10.6" fill="#000" class="sm" textLength="50.3" lengthAdjust="spacingAndGlyphs">7 Apr 08:00</text>
<text x="1333" y="938.2" font-size="10.6" fill="#000" class="sm" textLength="50.3" lengthAdjust="spacingAndGlyphs">8 Apr 16:00</text>
<text x="1397" y="938.2" font-size="10.6" fill="#000" class="sm" textLength="55.3" lengthAdjust="spacingAndGlyphs">12 Apr 00:00</text>
<text x="5.6" y="36" font-size="10" fill="#000" class="sm" textLength="53.4" lengthAdjust="spacingAndGlyphs">USDJPY-,H4</text>
<text x="65.4" y="36" font-size="10" fill="#000" class="sm" textLength="140.4" lengthAdjust="spacingAndGlyphs">125.327 125.395 125.300 125.322</text>
<text x="-5.6" y="592" font-size="10.6" fill="#000" class="sm" textLength="127.6" lengthAdjust="spacingAndGlyphs">MACD(12,26,9) 0.4853 0.5564</text>
<text x="-6.5" y="764" font-size="10.6" fill="#000" class="sm" textLength="68.5" lengthAdjust="spacingAndGlyphs">RSI(14) 67.1219</text>
</svg>
<svg id="tp" width="214" height="80" viewBox="0 25 214 80" style="position:absolute;left:0;top:25px">
<defs><linearGradient id="gb" x1="0" y1="0" x2="0" y2="1"><stop offset="0" stop-color="#ff5656"/><stop offset="1" stop-color="#dc2a2a"/></linearGradient><linearGradient id="gp" x1="0" y1="0" x2="0" y2="1"><stop offset="0" stop-color="#dc2a2a"/><stop offset="1" stop-color="#b00000"/></linearGradient><linearGradient id="gg" x1="0" y1="0" x2="0" y2="1"><stop offset="0" stop-color="#efefef"/><stop offset="0.45" stop-color="#e2e2e2"/><stop offset="0.5" stop-color="#d0d0d0"/><stop offset="1" stop-color="#c6c6c6"/></linearGradient></defs>
<g shape-rendering="crispEdges">
<rect x="0" y="38" width="214" height="64" fill="#fff"/>
<rect x="0" y="44" width="45" height="25" fill="url(#gb)"/>
<rect x="160" y="44" width="52" height="25" fill="url(#gb)"/>
<rect x="0" y="68" width="102" height="33" fill="url(#gp)"/>
<rect x="104" y="68" width="108" height="33" fill="url(#gp)"/>
<rect x="0" y="44" width="45" height="1" fill="#c81e1e"/>
<rect x="160" y="44" width="52" height="1" fill="#c81e1e"/>
<rect x="44" y="44" width="1" height="24" fill="#c81e1e"/>
<rect x="160" y="44" width="1" height="24" fill="#c81e1e"/>
<rect x="211" y="44" width="1" height="57" fill="#c01818"/>
<rect x="0" y="67" width="41" height="1" fill="#a40808"/>
<rect x="0" y="68" width="41" height="1" fill="#ee5a5a"/>
<rect x="164" y="67" width="44" height="1" fill="#a40808"/>
<rect x="164" y="68" width="44" height="1" fill="#ee5a5a"/>
<rect x="0" y="100" width="102" height="1" fill="#9c0000"/>
<rect x="104" y="100" width="108" height="1" fill="#9c0000"/>
<rect x="47.5" y="44.5" width="110" height="21" fill="#fff" stroke="#a3a8b4" stroke-width="1"/>
<rect x="49" y="46" width="19" height="18" fill="url(#gg)"/>
<rect x="138" y="46" width="19" height="18" fill="url(#gg)"/>
<rect x="68" y="45" width="1" height="20" fill="#b4b8c2"/>
<rect x="137" y="45" width="1" height="20" fill="#b4b8c2"/>
</g>
<polygon points="55,53 60.5,53 57.75,56.2" fill="#4a60c8"/>
<polygon points="144,56.2 149.5,56.2 146.75,53" fill="#4a60c8"/>
<text x="5.5" y="60" font-size="12" fill="#ffecec" textLength="25.5" lengthAdjust="spacingAndGlyphs" font-family="Liberation Sans, sans-serif">SELL</text>
<text x="173.5" y="60" font-size="12" fill="#ffecec" textLength="23.5" lengthAdjust="spacingAndGlyphs" font-family="Liberation Sans, sans-serif">BUY</text>
<text x="109.5" y="59" font-size="12" fill="#000" textLength="23.5" lengthAdjust="spacingAndGlyphs" font-family="Liberation Sans, sans-serif">1.00</text>
<text x="16" y="96" font-size="12" font-weight="bold" fill="#fff" textLength="21" lengthAdjust="spacingAndGlyphs" font-family="Liberation Sans, sans-serif">125</text>
<text x="126" y="96" font-size="12" font-weight="bold" fill="#fff" textLength="21" lengthAdjust="spacingAndGlyphs" font-family="Liberation Sans, sans-serif">125</text>
<text x="40.5" y="96" font-size="35.5" fill="#fff" textLength="35" lengthAdjust="spacingAndGlyphs" font-family="Liberation Sans, sans-serif">32</text>
<text x="151.5" y="96" font-size="35.5" fill="#fff" textLength="35" lengthAdjust="spacingAndGlyphs" font-family="Liberation Sans, sans-serif">38</text>
<text x="80" y="80" font-size="12" font-weight="bold" fill="#fff" font-family="Liberation Sans, sans-serif">2</text>
<text x="191" y="80" font-size="12" font-weight="bold" fill="#fff" font-family="Liberation Sans, sans-serif">3</text>
</svg>
<div id="tb"></div><div id="tbl"></div><div id="rb"></div>
<svg id="tbi" width="1696" height="22" viewBox="0 0 1696 22" style="position:absolute;left:0;top:0">
<polygon points="0,12.500 3,16 1.500,17.500 0,16.500" fill="#d9a520"/>
<path d="M6.500 16.700l1.800 1.800-1.800 1.800-1.800-1.800z" fill="#fff" stroke="#222" stroke-width="0.9"/>
<rect x="10" y="0" width="1" height="18" fill="#a0a0a0" shape-rendering="crispEdges"/>
<path d="M20.500 0.500h7.500l3.500 3.500v9.500h-11z" fill="#fdfdfd" stroke="#7a7a7a"/><path d="M28 0.500v3.500h3.500" fill="none" stroke="#8a8a8a"/><rect x="22.300" y="2.300" width="2.700" height="1.400" fill="#777"/><path d="M22.500 5.500h6M22.500 8h6M22.500 10.500h3" stroke="#8a8a8a" stroke-width="1"/>
<path d="M24.3 10.1h3.8v-3.8h3.9v3.8h3.800v3.900h-3.800v3.800h-3.900v-3.800h-3.800z" fill="#1fd01f" stroke="#0f8f0f" stroke-width="0.9"/><path d="M28.800 7h2.500M25 10.900h3" stroke="#b8ffb8" stroke-width="0.8"/>
<text x="38.5" y="12.3" font-size="12.2" fill="#000" font-family="Liberation Sans, Noto Sans CJK SC, sans-serif">新订单</text>
<defs><linearGradient id="gbk" x1="0" y1="0" x2="1" y2="1"><stop offset="0" stop-color="#fff2a0"/><stop offset="0.5" stop-color="#f0c030"/><stop offset="1" stop-color="#c08a18"/></linearGradient></defs>
<path d="M87.200 9.500l5.200-8.500c3 0.500 8 3.500 10.800 8.500l-8.300 6.700z" fill="url(#gbk)" stroke="#a87614" stroke-width="0.9"/><path d="M88 10.800l7 5.400 8-6.500" fill="none" stroke="#8a5e10" stroke-width="1.300"/>
<path d="M117 0h8l3.5 1.5v7.5h-11.5z" fill="#2f8ae6"/><path d="M121 2l7 0.5v6h-7z" fill="#e6f2ff"/><path d="M122.5 4.5l4-0.5M122.5 6.5h4" stroke="#5a9ae0" stroke-width="1" fill="none"/>
<path d="M117.5 16c-3.5 0-3.5-4.5 0-4.5c0.5-3 4.8-3.5 6.2-1c1.5-1.5 4.8-0.5 4.600 1.5c3.200 0 3.200 4 0 4z" fill="#e6ebf5" stroke="#7686b2" stroke-width="1"/>
<g fill="none" stroke-width="1.2"><circle cx="150.8" cy="7.8" r="7.6" stroke="#c8d8f0"/><circle cx="150.8" cy="7.8" r="5.3" stroke="#8cacdf"/><circle cx="150.8" cy="7.8" r="3" stroke="#4a78d0"/><path d="M156.6 2.9a7.6 7.6 0 0 1-5.8 12.5" stroke="#a8d8a8"/><path d="M154.9 4.4a5.3 5.3 0 0 1-4.100 8.700" stroke="#68b868"/></g><circle cx="150.8" cy="7.5" r="1.8" fill="#2a5ed0"/><rect x="150.7" y="8" width="1.4" height="7.7" fill="#1fa01f"/>
<defs><linearGradient id="gat" x1="0" y1="0" x2="1" y2="1"><stop offset="0" stop-color="#fff080"/><stop offset="1" stop-color="#e8b020"/></linearGradient></defs>
<path d="M171.5 7h13.5l-5 8.5h-1.5z" fill="url(#gat)" stroke="#c89010" stroke-width="0.8"/>
<path d="M175 4c0-5 6-5 6 0z" fill="#4a9ee0"/><ellipse cx="178" cy="4.6" rx="8" ry="2.7" fill="#5caae8" stroke="#2a7cc4" stroke-width="0.8"/><path d="M175.5 3.500c0.500-3.500 4.500-3.500 5 0z" fill="#7cc0f0"/>
<circle cx="182.4" cy="11.8" r="4.3" fill="#e02010"/><rect x="180.9" y="10.3" width="3" height="3" fill="#fff"/>
<text x="191" y="12.3" font-size="12.2" fill="#000" font-family="Liberation Sans, Noto Sans CJK SC, sans-serif">自动交易</text>
<rect x="246" y="0" width="1" height="20" fill="#a0a0a0" shape-rendering="crispEdges"/>
<rect x="247" y="0" width="1" height="20" fill="#fafafa"/>
<rect x="250" y="1" width="3" height="1" fill="#a8a8a8" shape-rendering="crispEdges"/>
<rect x="250" y="3" width="3" height="1" fill="#a8a8a8" shape-rendering="crispEdges"/>
<rect x="250" y="5" width="3" height="1" fill="#a8a8a8" shape-rendering="crispEdges"/>
<rect x="250" y="7" width="3" height="1" fill="#a8a8a8" shape-rendering="crispEdges"/>
<rect x="250" y="9" width="3" height="1" fill="#a8a8a8" shape-rendering="crispEdges"/>
<rect x="250" y="11" width="3" height="1" fill="#a8a8a8" shape-rendering="crispEdges"/>
<rect x="250" y="13" width="3" height="1" fill="#a8a8a8" shape-rendering="crispEdges"/>
<rect x="250" y="15" width="3" height="1" fill="#a8a8a8" shape-rendering="crispEdges"/>
<g stroke="#444" stroke-width="1" fill="none" shape-rendering="crispEdges"><line x1="264.5" y1="3" x2="264.5" y2="16"/><line x1="262" y1="13.5" x2="276" y2="13.5"/></g>
<polygon points="263,5 264.5,2 266,5" fill="#444"/><polygon points="274,12 277,13.5 274,15" fill="#444"/>
<path d="M270.500 4v8M270.500 5h2.500M268 11h2.500" stroke="#1a8a1a" stroke-width="1.300" fill="none"/>
<rect x="284" y="0" width="1" height="18" fill="#a0a0a0" shape-rendering="crispEdges"/>
<rect x="285" y="0" width="25" height="18" fill="#f8f8f8" shape-rendering="crispEdges"/>
<g stroke="#444" stroke-width="1" fill="none" shape-rendering="crispEdges"><line x1="292.5" y1="3" x2="292.5" y2="16"/><line x1="290" y1="13.5" x2="304" y2="13.5"/></g>
<polygon points="291,5 292.5,2 294,5" fill="#444"/><polygon points="302,12 305,13.5 302,15" fill="#444"/>
<rect x="297.500" y="0" width="1" height="12" fill="#0a7a0a"/><rect x="296" y="2.500" width="4" height="7" fill="#38d038" stroke="#0a7a0a" stroke-width="1"/>
<g stroke="#444" stroke-width="1" fill="none" shape-rendering="crispEdges"><line x1="320.5" y1="3" x2="320.5" y2="16"/><line x1="318" y1="13.5" x2="332" y2="13.5"/></g>
<polygon points="319,5 320.5,2 322,5" fill="#444"/><polygon points="330,12 333,13.5 330,15" fill="#444"/>
<path d="M319 11c3-7 6-8 8-5c1 1.500 2 2.500 4 3" stroke="#1a8a1a" stroke-width="1.300" fill="none"/>
<rect x="341" y="0" width="1" height="18" fill="#a0a0a0" shape-rendering="crispEdges"/>
<line x1="360" y1="10" x2="365" y2="15" stroke="#d8a820" stroke-width="3" stroke-linecap="round"/>
<circle cx="356" cy="6" r="5" fill="#e4f0fc" stroke="#3a80d0" stroke-width="1.600"/>
<line x1="353.5" y1="6" x2="358.5" y2="6" stroke="#2a68c0" stroke-width="1.600"/>
<line x1="356" y1="3.500" x2="356" y2="8.500" stroke="#2a68c0" stroke-width="1.600"/>
<line x1="388" y1="10" x2="393" y2="15" stroke="#d8a820" stroke-width="3" stroke-linecap="round"/>
<circle cx="384" cy="6" r="5" fill="#e4f0fc" stroke="#3a80d0" stroke-width="1.600"/>
<line x1="381.5" y1="6" x2="386.5" y2="6" stroke="#2a68c0" stroke-width="1.600"/>
<rect x="406" y="0" width="8" height="8" fill="#4a9a20"/><rect x="415" y="0" width="8" height="8" fill="#2a58d0"/><rect x="406" y="9" width="8" height="8" fill="#2a58d0"/><rect x="415" y="9" width="8" height="8" fill="#4a9a20"/>
<rect x="407.5" y="3" width="5" height="3.500" fill="#e8f0ff"/>
<rect x="416.5" y="3" width="5" height="3.500" fill="#e8f0ff"/>
<rect x="407.5" y="12" width="5" height="3.500" fill="#e8f0ff"/>
<rect x="416.5" y="12" width="5" height="3.500" fill="#e8f0ff"/>
<rect x="431" y="0" width="1" height="18" fill="#a0a0a0" shape-rendering="crispEdges"/>
<rect x="436" y="0" width="1" height="18" fill="#a0a0a0" shape-rendering="crispEdges"/>
<rect x="437" y="0" width="24" height="18" fill="#f8f8f8" shape-rendering="crispEdges"/>
<g stroke="#444" stroke-width="1" fill="none" shape-rendering="crispEdges"><line x1="444.5" y1="3" x2="444.5" y2="16"/><line x1="442" y1="13.5" x2="456" y2="13.5"/></g>
<polygon points="443,5 444.5,2 446,5" fill="#444"/><polygon points="454,12 457,13.5 454,15" fill="#444"/>
<polygon points="449,4 449,11 453.500,7.500" fill="#f0fff0" stroke="#1a9a1a" stroke-width="1"/>
<rect x="464" y="0" width="1" height="18" fill="#a0a0a0" shape-rendering="crispEdges"/>
<rect x="465" y="0" width="25" height="18" fill="#f8f8f8" shape-rendering="crispEdges"/>
<g stroke="#444" stroke-width="1" fill="none" shape-rendering="crispEdges"><line x1="472.5" y1="3" x2="472.5" y2="16"/><line x1="470" y1="13.5" x2="484" y2="13.5"/></g>
<polygon points="471,5 472.5,2 474,5" fill="#444"/><polygon points="482,12 485,13.5 482,15" fill="#444"/>
<rect x="478" y="2" width="1" height="10" fill="#1a68b0"/><path d="M484 7.500h-4M481.500 5.500l-2 2 2 2" stroke="#e05010" stroke-width="1.200" fill="none"/>
<rect x="493" y="0" width="1" height="18" fill="#a0a0a0" shape-rendering="crispEdges"/>
<path d="M504.500 1.500h5l3 3v8.500h-8z" fill="#fff" stroke="#8a8a8a"/><path d="M506 4v6M506 5h2M506 8h2" stroke="#707070" stroke-width="1" fill="none"/>
<path d="M508 9.500h3.500v-3.500h3v3.500h3.500v3h-3.500v3.500h-3v-3.500h-3.500z" fill="#2dc22d" stroke="#138a13" stroke-width="0.8"/>
<polygon points="525.0,7 530.0,7 527.5,10" fill="#000"/>
<circle cx="549" cy="8" r="7.300" fill="#2a78e0" stroke="#1a58b8" stroke-width="1"/><circle cx="549" cy="8" r="5" fill="#f4f8ff"/><path d="M549 4.500v3.500h3" stroke="#444" stroke-width="1" fill="none"/>
<polygon points="564.0,7 569.0,7 566.5,10" fill="#000"/>
<rect x="580.500" y="1.500" width="15" height="13" fill="#fff" stroke="#3a78d0" stroke-width="1"/><rect x="581" y="2" width="14" height="2.500" fill="#5a98e8"/>
<path d="M582 7l3-1 3 1 3-1.500 3 0.500" stroke="#a82a10" stroke-width="1.200" fill="none"/><path d="M582 12l3-1 2 1 3-2 4 2" stroke="#2a9a2a" stroke-width="1.200" fill="none"/>
<polygon points="603.0,7 608.0,7 605.5,10" fill="#000"/>
<rect x="614" y="0" width="1" height="20" fill="#a0a0a0" shape-rendering="crispEdges"/>
<rect x="615" y="0" width="1" height="20" fill="#fafafa"/>
<rect x="618" y="1" width="3" height="1" fill="#a8a8a8" shape-rendering="crispEdges"/>
<rect x="618" y="3" width="3" height="1" fill="#a8a8a8" shape-rendering="crispEdges"/>
<rect x="618" y="5" width="3" height="1" fill="#a8a8a8" shape-rendering="crispEdges"/>
<rect x="618" y="7" width="3" height="1" fill="#a8a8a8" shape-rendering="crispEdges"/>
<rect x="618" y="9" width="3" height="1" fill="#a8a8a8" shape-rendering="crispEdges"/>
<rect x="618" y="11" width="3" height="1" fill="#a8a8a8" shape-rendering="crispEdges"/>
<rect x="618" y="13" width="3" height="1" fill="#a8a8a8" shape-rendering="crispEdges"/>
<rect x="618" y="15" width="3" height="1" fill="#a8a8a8" shape-rendering="crispEdges"/>
<rect x="624" y="0" width="1" height="18" fill="#a0a0a0" shape-rendering="crispEdges"/>
<rect x="625" y="0" width="25" height="18" fill="#f8f8f8" shape-rendering="crispEdges"/>
<path d="M632 2v11l2.800-2.600 2 4.600 1.800-0.800-2-4.500h3.800z" fill="#444"/>
<g stroke="#444" stroke-width="1" shape-rendering="crispEdges"><line x1="657" y1="8.500" x2="672" y2="8.500"/><line x1="664.500" y1="1" x2="664.500" y2="16"/></g><rect x="663" y="7" width="3" height="3" fill="#f0f0f0"/><rect x="664" y="8" width="1" height="1" fill="#444"/>
<rect x="681" y="0" width="1" height="18" fill="#a0a0a0" shape-rendering="crispEdges"/>
<rect x="698" y="2" width="1" height="13" fill="#444" shape-rendering="crispEdges"/>
<rect x="721" y="8" width="12" height="1" fill="#444" shape-rendering="crispEdges"/>
<line x1="749" y1="15" x2="761" y2="3" stroke="#555" stroke-width="1.200"/>
<g stroke="#555" stroke-width="1" fill="none"><path d="M775 10l12-8M777 14l12-8M779 8v5M782 6v5M785 4v5"/></g>
<text x="786" y="16.500" font-size="7" font-weight="bold" fill="#333" font-family="Liberation Sans, Noto Sans CJK SC, sans-serif">E</text>
<line x1="804" y1="1.5" x2="817" y2="1.5" stroke="#555" stroke-width="1" stroke-dasharray="1 1" shape-rendering="crispEdges"/>
<line x1="804" y1="4.5" x2="817" y2="4.5" stroke="#555" stroke-width="1" stroke-dasharray="1 1" shape-rendering="crispEdges"/>
<line x1="804" y1="8.5" x2="817" y2="8.5" stroke="#555" stroke-width="1" stroke-dasharray="1 1" shape-rendering="crispEdges"/>
<line x1="804" y1="12.5" x2="817" y2="12.5" stroke="#555" stroke-width="1" stroke-dasharray="1 1" shape-rendering="crispEdges"/>
<text x="814" y="16.500" font-size="7" font-weight="bold" fill="#333" font-family="Liberation Sans, Noto Sans CJK SC, sans-serif">F</text>
<text x="834.500" y="13" font-size="12" fill="#444" font-family="Liberation Sans, Noto Sans CJK SC, sans-serif">A</text>
<rect x="861.500" y="2.500" width="11" height="12" fill="none" stroke="#555" stroke-width="1" stroke-dasharray="1 1" shape-rendering="crispEdges"/>
<text x="863" y="13" font-size="11" fill="#444" font-family="Liberation Sans, Noto Sans CJK SC, sans-serif">T</text>
<path d="M888 5l3.500-3.500 3.500 3.500-3.500 2.500z" fill="#555"/><path d="M895 12l3.500-2.500 3.500 2.500-3.500 3.500z" fill="#555"/><path d="M891 9l2.500 2.500 4-5" stroke="#444" stroke-width="1.200" fill="none"/>
<polygon points="909.0,7 914.0,7 911.5,10" fill="#000"/>
<rect x="920" y="0" width="1" height="20" fill="#a0a0a0" shape-rendering="crispEdges"/>
<rect x="921" y="0" width="1" height="20" fill="#fafafa"/>
<rect x="924" y="1" width="3" height="1" fill="#a8a8a8" shape-rendering="crispEdges"/>
<rect x="924" y="3" width="3" height="1" fill="#a8a8a8" shape-rendering="crispEdges"/>
<rect x="924" y="5" width="3" height="1" fill="#a8a8a8" shape-rendering="crispEdges"/>
<rect x="924" y="7" width="3" height="1" fill="#a8a8a8" shape-rendering="crispEdges"/>
<rect x="924" y="9" width="3" height="1" fill="#a8a8a8" shape-rendering="crispEdges"/>
<rect x="924" y="11" width="3" height="1" fill="#a8a8a8" shape-rendering="crispEdges"/>
<rect x="924" y="13" width="3" height="1" fill="#a8a8a8" shape-rendering="crispEdges"/>
<rect x="924" y="15" width="3" height="1" fill="#a8a8a8" shape-rendering="crispEdges"/>
<rect x="1070" y="0" width="1" height="18" fill="#a0a0a0" shape-rendering="crispEdges"/>
<rect x="1071" y="0" width="25" height="18" fill="#f8f8f8" shape-rendering="crispEdges"/>
<rect x="1181" y="0" width="1" height="18" fill="#a0a0a0" shape-rendering="crispEdges"/>
<text x="935" y="12" font-size="9.3" fill="#222" textLength="13" lengthAdjust="spacingAndGlyphs" font-family="Liberation Sans, Noto Sans CJK SC, sans-serif">M1</text>
<text x="963" y="12" font-size="9.3" fill="#222" textLength="13" lengthAdjust="spacingAndGlyphs" font-family="Liberation Sans, Noto Sans CJK SC, sans-serif">M5</text>
<text x="990" y="12" font-size="9.3" fill="#222" textLength="17.5" lengthAdjust="spacingAndGlyphs" font-family="Liberation Sans, Noto Sans CJK SC, sans-serif">M15</text>
<text x="1018" y="12" font-size="9.3" fill="#222" textLength="17.5" lengthAdjust="spacingAndGlyphs" font-family="Liberation Sans, Noto Sans CJK SC, sans-serif">M30</text>
<text x="1049" y="12" font-size="9.3" fill="#222" textLength="11.5" lengthAdjust="spacingAndGlyphs" font-family="Liberation Sans, Noto Sans CJK SC, sans-serif">H1</text>
<text x="1076" y="12" font-size="9.3" fill="#222" textLength="12" lengthAdjust="spacingAndGlyphs" font-family="Liberation Sans, Noto Sans CJK SC, sans-serif">H4</text>
<text x="1105" y="12" font-size="9.3" fill="#222" textLength="11.5" lengthAdjust="spacingAndGlyphs" font-family="Liberation Sans, Noto Sans CJK SC, sans-serif">D1</text>
<text x="1132" y="12" font-size="9.3" fill="#222" textLength="14" lengthAdjust="spacingAndGlyphs" font-family="Liberation Sans, Noto Sans CJK SC, sans-serif">W1</text>
<text x="1159" y="12" font-size="9.3" fill="#222" textLength="14.5" lengthAdjust="spacingAndGlyphs" font-family="Liberation Sans, Noto Sans CJK SC, sans-serif">MN</text>
<line x1="1645" y1="12" x2="1649.500" y2="7.500" stroke="#2a62d0" stroke-width="2.600" stroke-linecap="round"/><circle cx="1652.500" cy="5.500" r="4" fill="#f4f8ff" stroke="#2a62d0" stroke-width="1.500"/>
<path d="M1669 9c0-5 12-5 12 0c0 4-6 4.500-8 4l-3 2.500 0.500-3c-1-1-1.500-2-1.500-3.500z" fill="#e8e8ee" stroke="#b0b0b8" stroke-width="1"/>
<circle cx="1682.500" cy="4.500" r="8.300" fill="#e03a20"/>
<text x="1682.500" y="9" font-size="11.500" fill="#fff" text-anchor="middle" font-family="Liberation Sans, Noto Sans CJK SC, sans-serif">1</text>
</svg>
</body></html>
